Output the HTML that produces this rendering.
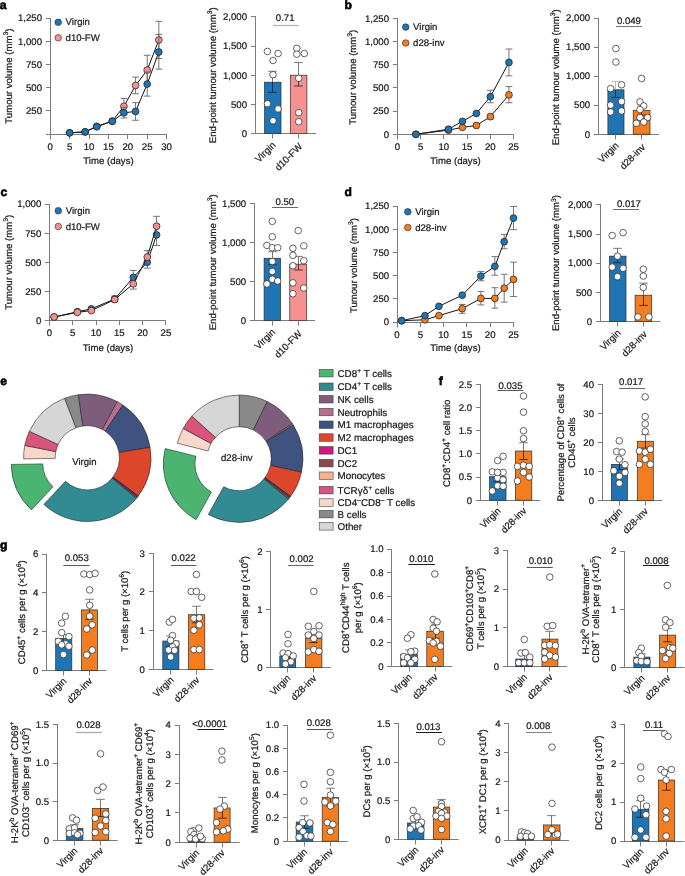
<!DOCTYPE html>
<html><head><meta charset="utf-8"><title>Figure</title>
<style>
html,body{margin:0;padding:0;background:#fff;}
body{width:685px;height:876px;overflow:hidden;}
svg{display:block;font-family:"Liberation Sans",sans-serif;-webkit-font-smoothing:antialiased;}
text{text-rendering:geometricPrecision;}
svg{will-change:transform;}
text{stroke:#1a1a1a;stroke-width:0.22px;}
</style></head>
<body>
<svg width="685" height="876" viewBox="0 0 685 876">
<rect width="685" height="876" fill="#fff"/>
<line x1="50.5" y1="18.05" x2="50.5" y2="139.55" stroke="#7c7c7c" stroke-width="1"/>
<line x1="45.9" y1="134.5" x2="166.7" y2="134.5" stroke="#7c7c7c" stroke-width="1"/>
<line x1="45.9" y1="110.5" x2="50.5" y2="110.5" stroke="#7c7c7c" stroke-width="1"/>
<text x="42" y="114.28" font-size="9.6" text-anchor="end" fill="#1a1a1a">250</text>
<line x1="45.9" y1="87.5" x2="50.5" y2="87.5" stroke="#7c7c7c" stroke-width="1"/>
<text x="42" y="91.06" font-size="9.6" text-anchor="end" fill="#1a1a1a">500</text>
<line x1="45.9" y1="64.5" x2="50.5" y2="64.5" stroke="#7c7c7c" stroke-width="1"/>
<text x="42" y="67.84" font-size="9.6" text-anchor="end" fill="#1a1a1a">750</text>
<line x1="45.9" y1="41.5" x2="50.5" y2="41.5" stroke="#7c7c7c" stroke-width="1"/>
<text x="42" y="44.62" font-size="9.6" text-anchor="end" fill="#1a1a1a">1,000</text>
<line x1="45.9" y1="18.5" x2="50.5" y2="18.5" stroke="#7c7c7c" stroke-width="1"/>
<text x="42" y="21.4" font-size="9.6" text-anchor="end" fill="#1a1a1a">1,250</text>
<line x1="50.5" y1="134.5" x2="50.5" y2="139.1" stroke="#7c7c7c" stroke-width="1"/>
<text x="50.2" y="149.8" font-size="9.6" text-anchor="middle" fill="#1a1a1a">0</text>
<line x1="69.5" y1="134.5" x2="69.5" y2="139.1" stroke="#7c7c7c" stroke-width="1"/>
<text x="69.6" y="149.8" font-size="9.6" text-anchor="middle" fill="#1a1a1a">5</text>
<line x1="89.5" y1="134.5" x2="89.5" y2="139.1" stroke="#7c7c7c" stroke-width="1"/>
<text x="89" y="149.8" font-size="9.6" text-anchor="middle" fill="#1a1a1a">10</text>
<line x1="108.5" y1="134.5" x2="108.5" y2="139.1" stroke="#7c7c7c" stroke-width="1"/>
<text x="108.4" y="149.8" font-size="9.6" text-anchor="middle" fill="#1a1a1a">15</text>
<line x1="127.5" y1="134.5" x2="127.5" y2="139.1" stroke="#7c7c7c" stroke-width="1"/>
<text x="127.8" y="149.8" font-size="9.6" text-anchor="middle" fill="#1a1a1a">20</text>
<line x1="147.5" y1="134.5" x2="147.5" y2="139.1" stroke="#7c7c7c" stroke-width="1"/>
<text x="147.2" y="149.8" font-size="9.6" text-anchor="middle" fill="#1a1a1a">25</text>
<line x1="166.5" y1="134.5" x2="166.5" y2="139.1" stroke="#7c7c7c" stroke-width="1"/>
<text x="166.6" y="149.8" font-size="9.6" text-anchor="middle" fill="#1a1a1a">30</text>
<text x="108.5" y="164" font-size="9.6" text-anchor="middle" fill="#1a1a1a">Time (days)</text>
<line x1="123.92" y1="114.23" x2="123.92" y2="98.44" stroke="#666666" stroke-width="0.9"/>
<line x1="120.52" y1="114.23" x2="127.32" y2="114.23" stroke="#666666" stroke-width="0.9"/>
<line x1="120.52" y1="98.44" x2="127.32" y2="98.44" stroke="#666666" stroke-width="0.9"/>
<line x1="135.56" y1="93.8" x2="135.56" y2="77.08" stroke="#666666" stroke-width="0.9"/>
<line x1="132.16" y1="93.8" x2="138.96" y2="93.8" stroke="#666666" stroke-width="0.9"/>
<line x1="132.16" y1="77.08" x2="138.96" y2="77.08" stroke="#666666" stroke-width="0.9"/>
<line x1="147.2" y1="84.97" x2="147.2" y2="55.25" stroke="#666666" stroke-width="0.9"/>
<line x1="143.8" y1="84.97" x2="150.6" y2="84.97" stroke="#666666" stroke-width="0.9"/>
<line x1="143.8" y1="55.25" x2="150.6" y2="55.25" stroke="#666666" stroke-width="0.9"/>
<line x1="158.84" y1="58.5" x2="158.84" y2="21.35" stroke="#666666" stroke-width="0.9"/>
<line x1="155.44" y1="58.5" x2="162.24" y2="58.5" stroke="#666666" stroke-width="0.9"/>
<line x1="155.44" y1="21.35" x2="162.24" y2="21.35" stroke="#666666" stroke-width="0.9"/>
<polyline points="69.6,132.81 85.12,131.88 96.76,126.31 112.28,121.2 123.92,106.34 135.56,85.44 147.2,70.11 158.84,39.93" fill="none" stroke="#151515" stroke-width="1"/>
<circle cx="69.6" cy="132.81" r="3.4" fill="#f5928f" stroke="#1a1a1a" stroke-width="0.7"/>
<circle cx="85.12" cy="131.88" r="3.4" fill="#f5928f" stroke="#1a1a1a" stroke-width="0.7"/>
<circle cx="96.76" cy="126.31" r="3.4" fill="#f5928f" stroke="#1a1a1a" stroke-width="0.7"/>
<circle cx="112.28" cy="121.2" r="3.4" fill="#f5928f" stroke="#1a1a1a" stroke-width="0.7"/>
<circle cx="123.92" cy="106.34" r="3.4" fill="#f5928f" stroke="#1a1a1a" stroke-width="0.7"/>
<circle cx="135.56" cy="85.44" r="3.4" fill="#f5928f" stroke="#1a1a1a" stroke-width="0.7"/>
<circle cx="147.2" cy="70.11" r="3.4" fill="#f5928f" stroke="#1a1a1a" stroke-width="0.7"/>
<circle cx="158.84" cy="39.93" r="3.4" fill="#f5928f" stroke="#1a1a1a" stroke-width="0.7"/>
<line x1="123.92" y1="117.95" x2="123.92" y2="107.26" stroke="#666666" stroke-width="0.9"/>
<line x1="120.52" y1="117.95" x2="127.32" y2="117.95" stroke="#666666" stroke-width="0.9"/>
<line x1="120.52" y1="107.26" x2="127.32" y2="107.26" stroke="#666666" stroke-width="0.9"/>
<line x1="135.56" y1="120.27" x2="135.56" y2="102.62" stroke="#666666" stroke-width="0.9"/>
<line x1="132.16" y1="120.27" x2="138.96" y2="120.27" stroke="#666666" stroke-width="0.9"/>
<line x1="132.16" y1="102.62" x2="138.96" y2="102.62" stroke="#666666" stroke-width="0.9"/>
<line x1="147.2" y1="96.12" x2="147.2" y2="71.97" stroke="#666666" stroke-width="0.9"/>
<line x1="143.8" y1="96.12" x2="150.6" y2="96.12" stroke="#666666" stroke-width="0.9"/>
<line x1="143.8" y1="71.97" x2="150.6" y2="71.97" stroke="#666666" stroke-width="0.9"/>
<line x1="158.84" y1="69.18" x2="158.84" y2="34.35" stroke="#666666" stroke-width="0.9"/>
<line x1="155.44" y1="69.18" x2="162.24" y2="69.18" stroke="#666666" stroke-width="0.9"/>
<line x1="155.44" y1="34.35" x2="162.24" y2="34.35" stroke="#666666" stroke-width="0.9"/>
<polyline points="69.6,132.81 85.12,131.88 96.76,126.77 112.28,121.2 123.92,112.84 135.56,111.44 147.2,84.04 158.84,52" fill="none" stroke="#151515" stroke-width="1"/>
<circle cx="69.6" cy="132.81" r="3.4" fill="#1f75b3" stroke="#1a1a1a" stroke-width="0.7"/>
<circle cx="85.12" cy="131.88" r="3.4" fill="#1f75b3" stroke="#1a1a1a" stroke-width="0.7"/>
<circle cx="96.76" cy="126.77" r="3.4" fill="#1f75b3" stroke="#1a1a1a" stroke-width="0.7"/>
<circle cx="112.28" cy="121.2" r="3.4" fill="#1f75b3" stroke="#1a1a1a" stroke-width="0.7"/>
<circle cx="123.92" cy="112.84" r="3.4" fill="#1f75b3" stroke="#1a1a1a" stroke-width="0.7"/>
<circle cx="135.56" cy="111.44" r="3.4" fill="#1f75b3" stroke="#1a1a1a" stroke-width="0.7"/>
<circle cx="147.2" cy="84.04" r="3.4" fill="#1f75b3" stroke="#1a1a1a" stroke-width="0.7"/>
<circle cx="158.84" cy="52" r="3.4" fill="#1f75b3" stroke="#1a1a1a" stroke-width="0.7"/>
<circle cx="58.2" cy="22.3" r="3.3" fill="#1f75b3" stroke="#2a2a2a" stroke-width="0.6"/>
<text x="65.6" y="25.4" font-size="9.6" text-anchor="start" fill="#1a1a1a">Virgin</text>
<circle cx="58.2" cy="37.8" r="3.3" fill="#f5928f" stroke="#2a2a2a" stroke-width="0.6"/>
<text x="65.6" y="40.9" font-size="9.6" text-anchor="start" fill="#1a1a1a">d10-FW</text>
<text x="11.8" y="76.15" font-size="9.6" text-anchor="middle" transform="rotate(-90 11.8 76.15)" fill="#1a1a1a">Tumour volume (mm<tspan dy="-3.9" font-size="6.72">3</tspan><tspan dy="3.9">&#8203;</tspan>)</text>
<line x1="255.5" y1="16.05" x2="255.5" y2="133.95" stroke="#7c7c7c" stroke-width="1"/>
<line x1="250.9" y1="133.5" x2="316" y2="133.5" stroke="#7c7c7c" stroke-width="1"/>
<text x="247" y="136.9" font-size="9.6" text-anchor="end" fill="#1a1a1a">0</text>
<line x1="250.9" y1="104.5" x2="255.5" y2="104.5" stroke="#7c7c7c" stroke-width="1"/>
<text x="247" y="107.7" font-size="9.6" text-anchor="end" fill="#1a1a1a">500</text>
<line x1="250.9" y1="75.5" x2="255.5" y2="75.5" stroke="#7c7c7c" stroke-width="1"/>
<text x="247" y="78.5" font-size="9.6" text-anchor="end" fill="#1a1a1a">1,000</text>
<line x1="250.9" y1="46.5" x2="255.5" y2="46.5" stroke="#7c7c7c" stroke-width="1"/>
<text x="247" y="49.3" font-size="9.6" text-anchor="end" fill="#1a1a1a">1,500</text>
<line x1="250.9" y1="16.5" x2="255.5" y2="16.5" stroke="#7c7c7c" stroke-width="1"/>
<text x="247" y="20.1" font-size="9.6" text-anchor="end" fill="#1a1a1a">2,000</text>
<rect x="264.6" y="82.21" width="16.4" height="51.39" fill="#1f75b3" stroke="#2a2a2a" stroke-width="0.7"/>
<line x1="272.5" y1="133.5" x2="272.5" y2="138.5" stroke="#7c7c7c" stroke-width="1"/>
<rect x="290.3" y="75.2" width="16.6" height="58.4" fill="#f5928f" stroke="#2a2a2a" stroke-width="0.7"/>
<line x1="298.5" y1="133.5" x2="298.5" y2="138.5" stroke="#7c7c7c" stroke-width="1"/>
<line x1="272.5" y1="82.21" x2="272.5" y2="71.29" stroke="#6a6a6a" stroke-width="0.9"/>
<line x1="268.2" y1="71.29" x2="276.8" y2="71.29" stroke="#6a6a6a" stroke-width="0.9"/>
<line x1="272.5" y1="92.31" x2="272.5" y2="82.21" stroke="#1e1e1e" stroke-width="0.8"/>
<line x1="268.2" y1="92.31" x2="276.8" y2="92.31" stroke="#1e1e1e" stroke-width="0.8"/>
<line x1="298.5" y1="75.2" x2="298.5" y2="62.59" stroke="#6a6a6a" stroke-width="0.9"/>
<line x1="294.2" y1="62.59" x2="302.8" y2="62.59" stroke="#6a6a6a" stroke-width="0.9"/>
<line x1="298.5" y1="86" x2="298.5" y2="75.2" stroke="#1e1e1e" stroke-width="0.8"/>
<line x1="294.2" y1="86" x2="302.8" y2="86" stroke="#1e1e1e" stroke-width="0.8"/>
<circle cx="267.4" cy="51.43" r="3.3" fill="#ffffff" stroke="#222222" stroke-width="0.7"/>
<circle cx="278.1" cy="53.48" r="3.3" fill="#ffffff" stroke="#222222" stroke-width="0.7"/>
<circle cx="273" cy="60.48" r="3.3" fill="#ffffff" stroke="#222222" stroke-width="0.7"/>
<circle cx="273" cy="74.79" r="3.3" fill="#ffffff" stroke="#222222" stroke-width="0.7"/>
<circle cx="267.4" cy="103.7" r="3.3" fill="#ffffff" stroke="#222222" stroke-width="0.7"/>
<circle cx="278.1" cy="108.9" r="3.3" fill="#ffffff" stroke="#222222" stroke-width="0.7"/>
<circle cx="273" cy="120.81" r="3.3" fill="#ffffff" stroke="#222222" stroke-width="0.7"/>
<circle cx="296.8" cy="48.34" r="3.3" fill="#ffffff" stroke="#222222" stroke-width="0.7"/>
<circle cx="296.8" cy="54.18" r="3.3" fill="#ffffff" stroke="#222222" stroke-width="0.7"/>
<circle cx="304.3" cy="53.48" r="3.3" fill="#ffffff" stroke="#222222" stroke-width="0.7"/>
<circle cx="298.7" cy="78.3" r="3.3" fill="#ffffff" stroke="#222222" stroke-width="0.7"/>
<circle cx="298.7" cy="112.58" r="3.3" fill="#ffffff" stroke="#222222" stroke-width="0.7"/>
<circle cx="298.7" cy="121.69" r="3.3" fill="#ffffff" stroke="#222222" stroke-width="0.7"/>
<line x1="273" y1="25.5" x2="298.7" y2="25.5" stroke="#b4b4b4" stroke-width="1.3"/>
<text x="285.2" y="20.9" font-size="9.6" text-anchor="middle" fill="#1a1a1a">0.71</text>
<text x="216.2" y="75.2" font-size="9.6" text-anchor="middle" transform="rotate(-90 216.2 75.2)" fill="#1a1a1a">End-point tumour volume (mm<tspan dy="-3.9" font-size="6.72">3</tspan><tspan dy="3.9">&#8203;</tspan>)</text>
<text x="276.2" y="145.7" font-size="9.6" text-anchor="end" transform="rotate(-45 276.2 145.7)" fill="#1a1a1a">Virgin</text>
<text x="302.9" y="147.2" font-size="9.6" text-anchor="end" transform="rotate(-45 302.9 147.2)" fill="#1a1a1a">d10-FW</text>
<line x1="397.5" y1="18.05" x2="397.5" y2="139.55" stroke="#7c7c7c" stroke-width="1"/>
<line x1="392.9" y1="134.5" x2="513.6" y2="134.5" stroke="#7c7c7c" stroke-width="1"/>
<text x="389" y="137.6" font-size="9.6" text-anchor="end" fill="#1a1a1a">0</text>
<line x1="392.9" y1="111.5" x2="397.5" y2="111.5" stroke="#7c7c7c" stroke-width="1"/>
<text x="389" y="114.42" font-size="9.6" text-anchor="end" fill="#1a1a1a">250</text>
<line x1="392.9" y1="87.5" x2="397.5" y2="87.5" stroke="#7c7c7c" stroke-width="1"/>
<text x="389" y="91.24" font-size="9.6" text-anchor="end" fill="#1a1a1a">500</text>
<line x1="392.9" y1="64.5" x2="397.5" y2="64.5" stroke="#7c7c7c" stroke-width="1"/>
<text x="389" y="68.06" font-size="9.6" text-anchor="end" fill="#1a1a1a">750</text>
<line x1="392.9" y1="41.5" x2="397.5" y2="41.5" stroke="#7c7c7c" stroke-width="1"/>
<text x="389" y="44.88" font-size="9.6" text-anchor="end" fill="#1a1a1a">1,000</text>
<line x1="392.9" y1="18.5" x2="397.5" y2="18.5" stroke="#7c7c7c" stroke-width="1"/>
<text x="389" y="21.7" font-size="9.6" text-anchor="end" fill="#1a1a1a">1,250</text>
<line x1="397.5" y1="134.5" x2="397.5" y2="139.1" stroke="#7c7c7c" stroke-width="1"/>
<text x="397.3" y="149.9" font-size="9.6" text-anchor="middle" fill="#1a1a1a">0</text>
<line x1="420.5" y1="134.5" x2="420.5" y2="139.1" stroke="#7c7c7c" stroke-width="1"/>
<text x="420.56" y="149.9" font-size="9.6" text-anchor="middle" fill="#1a1a1a">5</text>
<line x1="443.5" y1="134.5" x2="443.5" y2="139.1" stroke="#7c7c7c" stroke-width="1"/>
<text x="443.82" y="149.9" font-size="9.6" text-anchor="middle" fill="#1a1a1a">10</text>
<line x1="467.5" y1="134.5" x2="467.5" y2="139.1" stroke="#7c7c7c" stroke-width="1"/>
<text x="467.08" y="149.9" font-size="9.6" text-anchor="middle" fill="#1a1a1a">15</text>
<line x1="490.5" y1="134.5" x2="490.5" y2="139.1" stroke="#7c7c7c" stroke-width="1"/>
<text x="490.34" y="149.9" font-size="9.6" text-anchor="middle" fill="#1a1a1a">20</text>
<line x1="513.5" y1="134.5" x2="513.5" y2="139.1" stroke="#7c7c7c" stroke-width="1"/>
<text x="513.6" y="149.9" font-size="9.6" text-anchor="middle" fill="#1a1a1a">25</text>
<text x="455.5" y="164" font-size="9.6" text-anchor="middle" fill="#1a1a1a">Time (days)</text>
<line x1="490.34" y1="119" x2="490.34" y2="114.37" stroke="#666666" stroke-width="0.9"/>
<line x1="486.94" y1="119" x2="493.74" y2="119" stroke="#666666" stroke-width="0.9"/>
<line x1="486.94" y1="114.37" x2="493.74" y2="114.37" stroke="#666666" stroke-width="0.9"/>
<line x1="508.95" y1="102.78" x2="508.95" y2="86.55" stroke="#666666" stroke-width="0.9"/>
<line x1="505.55" y1="102.78" x2="512.35" y2="102.78" stroke="#666666" stroke-width="0.9"/>
<line x1="505.55" y1="86.55" x2="512.35" y2="86.55" stroke="#666666" stroke-width="0.9"/>
<polyline points="415.91,134.3 448.47,130.13 462.43,127.35 476.38,125.49 490.34,116.68 508.95,94.89" fill="none" stroke="#151515" stroke-width="1"/>
<circle cx="415.91" cy="134.3" r="3.4" fill="#f47d20" stroke="#1a1a1a" stroke-width="0.7"/>
<circle cx="448.47" cy="130.13" r="3.4" fill="#f47d20" stroke="#1a1a1a" stroke-width="0.7"/>
<circle cx="462.43" cy="127.35" r="3.4" fill="#f47d20" stroke="#1a1a1a" stroke-width="0.7"/>
<circle cx="476.38" cy="125.49" r="3.4" fill="#f47d20" stroke="#1a1a1a" stroke-width="0.7"/>
<circle cx="490.34" cy="116.68" r="3.4" fill="#f47d20" stroke="#1a1a1a" stroke-width="0.7"/>
<circle cx="508.95" cy="94.89" r="3.4" fill="#f47d20" stroke="#1a1a1a" stroke-width="0.7"/>
<line x1="490.34" y1="102.78" x2="490.34" y2="90.26" stroke="#666666" stroke-width="0.9"/>
<line x1="486.94" y1="102.78" x2="493.74" y2="102.78" stroke="#666666" stroke-width="0.9"/>
<line x1="486.94" y1="90.26" x2="493.74" y2="90.26" stroke="#666666" stroke-width="0.9"/>
<line x1="508.95" y1="75.89" x2="508.95" y2="49" stroke="#666666" stroke-width="0.9"/>
<line x1="505.55" y1="75.89" x2="512.35" y2="75.89" stroke="#666666" stroke-width="0.9"/>
<line x1="505.55" y1="49" x2="512.35" y2="49" stroke="#666666" stroke-width="0.9"/>
<polyline points="415.91,134.3 448.47,129.2 462.43,121.32 476.38,113.44 490.34,96.75 508.95,62.44" fill="none" stroke="#151515" stroke-width="1"/>
<circle cx="415.91" cy="134.3" r="3.4" fill="#1f75b3" stroke="#1a1a1a" stroke-width="0.7"/>
<circle cx="448.47" cy="129.2" r="3.4" fill="#1f75b3" stroke="#1a1a1a" stroke-width="0.7"/>
<circle cx="462.43" cy="121.32" r="3.4" fill="#1f75b3" stroke="#1a1a1a" stroke-width="0.7"/>
<circle cx="476.38" cy="113.44" r="3.4" fill="#1f75b3" stroke="#1a1a1a" stroke-width="0.7"/>
<circle cx="490.34" cy="96.75" r="3.4" fill="#1f75b3" stroke="#1a1a1a" stroke-width="0.7"/>
<circle cx="508.95" cy="62.44" r="3.4" fill="#1f75b3" stroke="#1a1a1a" stroke-width="0.7"/>
<circle cx="405.7" cy="27.1" r="3.3" fill="#1f75b3" stroke="#2a2a2a" stroke-width="0.6"/>
<text x="413.1" y="30.2" font-size="9.6" text-anchor="start" fill="#1a1a1a">Virgin</text>
<circle cx="405.7" cy="43" r="3.3" fill="#f47d20" stroke="#2a2a2a" stroke-width="0.6"/>
<text x="413.1" y="46.1" font-size="9.6" text-anchor="start" fill="#1a1a1a">d28-inv</text>
<text x="356.3" y="77.25" font-size="9.6" text-anchor="middle" transform="rotate(-90 356.3 77.25)" fill="#1a1a1a">Tumour volume (mm<tspan dy="-3.9" font-size="6.72">3</tspan><tspan dy="3.9">&#8203;</tspan>)</text>
<line x1="598.5" y1="18.05" x2="598.5" y2="134.95" stroke="#7c7c7c" stroke-width="1"/>
<line x1="593.9" y1="134.5" x2="659" y2="134.5" stroke="#7c7c7c" stroke-width="1"/>
<text x="590.1" y="137.5" font-size="9.6" text-anchor="end" fill="#1a1a1a">0</text>
<line x1="593.9" y1="105.5" x2="598.5" y2="105.5" stroke="#7c7c7c" stroke-width="1"/>
<text x="590.1" y="108.47" font-size="9.6" text-anchor="end" fill="#1a1a1a">500</text>
<line x1="593.9" y1="76.5" x2="598.5" y2="76.5" stroke="#7c7c7c" stroke-width="1"/>
<text x="590.1" y="79.45" font-size="9.6" text-anchor="end" fill="#1a1a1a">1,000</text>
<line x1="593.9" y1="47.5" x2="598.5" y2="47.5" stroke="#7c7c7c" stroke-width="1"/>
<text x="590.1" y="50.42" font-size="9.6" text-anchor="end" fill="#1a1a1a">1,500</text>
<line x1="593.9" y1="18.5" x2="598.5" y2="18.5" stroke="#7c7c7c" stroke-width="1"/>
<text x="590.1" y="21.4" font-size="9.6" text-anchor="end" fill="#1a1a1a">2,000</text>
<rect x="607.9" y="89.79" width="16.1" height="44.41" fill="#1f75b3" stroke="#2a2a2a" stroke-width="0.7"/>
<line x1="615.5" y1="134.5" x2="615.5" y2="139.5" stroke="#7c7c7c" stroke-width="1"/>
<rect x="633.2" y="110.28" width="16.8" height="23.92" fill="#f47d20" stroke="#2a2a2a" stroke-width="0.7"/>
<line x1="641.5" y1="134.5" x2="641.5" y2="139.5" stroke="#7c7c7c" stroke-width="1"/>
<line x1="615.5" y1="89.79" x2="615.5" y2="81.37" stroke="#b8b8b8" stroke-width="0.9"/>
<line x1="611.2" y1="81.37" x2="619.8" y2="81.37" stroke="#b8b8b8" stroke-width="0.9"/>
<line x1="615.5" y1="97.45" x2="615.5" y2="89.79" stroke="#1e1e1e" stroke-width="0.8"/>
<line x1="611.2" y1="97.45" x2="619.8" y2="97.45" stroke="#1e1e1e" stroke-width="0.8"/>
<line x1="641.5" y1="110.28" x2="641.5" y2="105.47" stroke="#b8b8b8" stroke-width="0.9"/>
<line x1="637.2" y1="105.47" x2="645.8" y2="105.47" stroke="#b8b8b8" stroke-width="0.9"/>
<line x1="641.5" y1="115.04" x2="641.5" y2="110.28" stroke="#1e1e1e" stroke-width="0.8"/>
<line x1="637.2" y1="115.04" x2="645.8" y2="115.04" stroke="#1e1e1e" stroke-width="0.8"/>
<circle cx="615.9" cy="48.58" r="3.3" fill="#ffffff" stroke="#222222" stroke-width="0.7"/>
<circle cx="615.9" cy="62.04" r="3.3" fill="#ffffff" stroke="#222222" stroke-width="0.7"/>
<circle cx="621.6" cy="84.74" r="3.3" fill="#ffffff" stroke="#222222" stroke-width="0.7"/>
<circle cx="610.6" cy="88.57" r="3.3" fill="#ffffff" stroke="#222222" stroke-width="0.7"/>
<circle cx="610.6" cy="105.17" r="3.3" fill="#ffffff" stroke="#222222" stroke-width="0.7"/>
<circle cx="621.6" cy="101.58" r="3.3" fill="#ffffff" stroke="#222222" stroke-width="0.7"/>
<circle cx="610.6" cy="111.97" r="3.3" fill="#ffffff" stroke="#222222" stroke-width="0.7"/>
<circle cx="621.6" cy="110.98" r="3.3" fill="#ffffff" stroke="#222222" stroke-width="0.7"/>
<circle cx="641.6" cy="78.47" r="3.3" fill="#ffffff" stroke="#222222" stroke-width="0.7"/>
<circle cx="640" cy="101.87" r="3.3" fill="#ffffff" stroke="#222222" stroke-width="0.7"/>
<circle cx="643.8" cy="105.99" r="3.3" fill="#ffffff" stroke="#222222" stroke-width="0.7"/>
<circle cx="640" cy="109.59" r="3.3" fill="#ffffff" stroke="#222222" stroke-width="0.7"/>
<circle cx="640" cy="117.48" r="3.3" fill="#ffffff" stroke="#222222" stroke-width="0.7"/>
<circle cx="647.6" cy="117.48" r="3.3" fill="#ffffff" stroke="#222222" stroke-width="0.7"/>
<circle cx="636.3" cy="123.29" r="3.3" fill="#ffffff" stroke="#222222" stroke-width="0.7"/>
<circle cx="643.8" cy="122.07" r="3.3" fill="#ffffff" stroke="#222222" stroke-width="0.7"/>
<line x1="615.9" y1="26.5" x2="641.9" y2="26.5" stroke="#7a7a7a" stroke-width="1.1"/>
<text x="628.9" y="23.8" font-size="9.6" text-anchor="middle" fill="#1a1a1a">0.049</text>
<text x="559.1" y="77.35" font-size="9.6" text-anchor="middle" transform="rotate(-90 559.1 77.35)" fill="#1a1a1a">End-point tumour volume (mm<tspan dy="-3.9" font-size="6.72">3</tspan><tspan dy="3.9">&#8203;</tspan>)</text>
<text x="619.35" y="146.3" font-size="9.6" text-anchor="end" transform="rotate(-45 619.35 146.3)" fill="#1a1a1a">Virgin</text>
<text x="645.9" y="147.8" font-size="9.6" text-anchor="end" transform="rotate(-45 645.9 147.8)" fill="#1a1a1a">d28-inv</text>
<line x1="49.5" y1="204.05" x2="49.5" y2="325.55" stroke="#7c7c7c" stroke-width="1"/>
<line x1="44.9" y1="320.5" x2="165.9" y2="320.5" stroke="#7c7c7c" stroke-width="1"/>
<text x="41.3" y="323.8" font-size="9.6" text-anchor="end" fill="#1a1a1a">0</text>
<line x1="44.9" y1="291.5" x2="49.5" y2="291.5" stroke="#7c7c7c" stroke-width="1"/>
<text x="41.3" y="294.7" font-size="9.6" text-anchor="end" fill="#1a1a1a">250</text>
<line x1="44.9" y1="262.5" x2="49.5" y2="262.5" stroke="#7c7c7c" stroke-width="1"/>
<text x="41.3" y="265.6" font-size="9.6" text-anchor="end" fill="#1a1a1a">500</text>
<line x1="44.9" y1="233.5" x2="49.5" y2="233.5" stroke="#7c7c7c" stroke-width="1"/>
<text x="41.3" y="236.5" font-size="9.6" text-anchor="end" fill="#1a1a1a">750</text>
<line x1="44.9" y1="204.5" x2="49.5" y2="204.5" stroke="#7c7c7c" stroke-width="1"/>
<text x="41.3" y="207.4" font-size="9.6" text-anchor="end" fill="#1a1a1a">1,000</text>
<line x1="49.5" y1="320.5" x2="49.5" y2="325.1" stroke="#7c7c7c" stroke-width="1"/>
<text x="49.5" y="336.1" font-size="9.6" text-anchor="middle" fill="#1a1a1a">0</text>
<line x1="72.5" y1="320.5" x2="72.5" y2="325.1" stroke="#7c7c7c" stroke-width="1"/>
<text x="72.78" y="336.1" font-size="9.6" text-anchor="middle" fill="#1a1a1a">5</text>
<line x1="96.5" y1="320.5" x2="96.5" y2="325.1" stroke="#7c7c7c" stroke-width="1"/>
<text x="96.06" y="336.1" font-size="9.6" text-anchor="middle" fill="#1a1a1a">10</text>
<line x1="119.5" y1="320.5" x2="119.5" y2="325.1" stroke="#7c7c7c" stroke-width="1"/>
<text x="119.34" y="336.1" font-size="9.6" text-anchor="middle" fill="#1a1a1a">15</text>
<line x1="142.5" y1="320.5" x2="142.5" y2="325.1" stroke="#7c7c7c" stroke-width="1"/>
<text x="142.62" y="336.1" font-size="9.6" text-anchor="middle" fill="#1a1a1a">20</text>
<line x1="165.5" y1="320.5" x2="165.5" y2="325.1" stroke="#7c7c7c" stroke-width="1"/>
<text x="165.9" y="336.1" font-size="9.6" text-anchor="middle" fill="#1a1a1a">25</text>
<text x="108" y="351.2" font-size="9.6" text-anchor="middle" fill="#1a1a1a">Time (days)</text>
<line x1="114.68" y1="301.29" x2="114.68" y2="296.06" stroke="#666666" stroke-width="0.9"/>
<line x1="111.28" y1="301.29" x2="118.08" y2="301.29" stroke="#666666" stroke-width="0.9"/>
<line x1="111.28" y1="296.06" x2="118.08" y2="296.06" stroke="#666666" stroke-width="0.9"/>
<line x1="133.31" y1="284.42" x2="133.31" y2="270.45" stroke="#666666" stroke-width="0.9"/>
<line x1="129.91" y1="284.42" x2="136.71" y2="284.42" stroke="#666666" stroke-width="0.9"/>
<line x1="129.91" y1="270.45" x2="136.71" y2="270.45" stroke="#666666" stroke-width="0.9"/>
<line x1="147.28" y1="268.12" x2="147.28" y2="256.48" stroke="#666666" stroke-width="0.9"/>
<line x1="143.88" y1="268.12" x2="150.68" y2="268.12" stroke="#666666" stroke-width="0.9"/>
<line x1="143.88" y1="256.48" x2="150.68" y2="256.48" stroke="#666666" stroke-width="0.9"/>
<line x1="156.59" y1="245.42" x2="156.59" y2="224.47" stroke="#666666" stroke-width="0.9"/>
<line x1="153.19" y1="245.42" x2="159.99" y2="245.42" stroke="#666666" stroke-width="0.9"/>
<line x1="153.19" y1="224.47" x2="159.99" y2="224.47" stroke="#666666" stroke-width="0.9"/>
<polyline points="54.16,317.01 77.44,311.77 91.4,308.86 114.68,298.97 133.31,277.43 147.28,262.3 156.59,234.95" fill="none" stroke="#151515" stroke-width="1"/>
<circle cx="54.16" cy="317.01" r="3.4" fill="#1f75b3" stroke="#1a1a1a" stroke-width="0.7"/>
<circle cx="77.44" cy="311.77" r="3.4" fill="#1f75b3" stroke="#1a1a1a" stroke-width="0.7"/>
<circle cx="91.4" cy="308.86" r="3.4" fill="#1f75b3" stroke="#1a1a1a" stroke-width="0.7"/>
<circle cx="114.68" cy="298.97" r="3.4" fill="#1f75b3" stroke="#1a1a1a" stroke-width="0.7"/>
<circle cx="133.31" cy="277.43" r="3.4" fill="#1f75b3" stroke="#1a1a1a" stroke-width="0.7"/>
<circle cx="147.28" cy="262.3" r="3.4" fill="#1f75b3" stroke="#1a1a1a" stroke-width="0.7"/>
<circle cx="156.59" cy="234.95" r="3.4" fill="#1f75b3" stroke="#1a1a1a" stroke-width="0.7"/>
<line x1="114.68" y1="301.88" x2="114.68" y2="297.22" stroke="#666666" stroke-width="0.9"/>
<line x1="111.28" y1="301.88" x2="118.08" y2="301.88" stroke="#666666" stroke-width="0.9"/>
<line x1="111.28" y1="297.22" x2="118.08" y2="297.22" stroke="#666666" stroke-width="0.9"/>
<line x1="133.31" y1="289.07" x2="133.31" y2="278.6" stroke="#666666" stroke-width="0.9"/>
<line x1="129.91" y1="289.07" x2="136.71" y2="289.07" stroke="#666666" stroke-width="0.9"/>
<line x1="129.91" y1="278.6" x2="136.71" y2="278.6" stroke="#666666" stroke-width="0.9"/>
<line x1="147.28" y1="262.88" x2="147.28" y2="250.66" stroke="#666666" stroke-width="0.9"/>
<line x1="143.88" y1="262.88" x2="150.68" y2="262.88" stroke="#666666" stroke-width="0.9"/>
<line x1="143.88" y1="250.66" x2="150.68" y2="250.66" stroke="#666666" stroke-width="0.9"/>
<line x1="156.59" y1="236.11" x2="156.59" y2="216.32" stroke="#666666" stroke-width="0.9"/>
<line x1="153.19" y1="236.11" x2="159.99" y2="236.11" stroke="#666666" stroke-width="0.9"/>
<line x1="153.19" y1="216.32" x2="159.99" y2="216.32" stroke="#666666" stroke-width="0.9"/>
<polyline points="54.16,317.01 77.44,312.35 91.4,310.61 114.68,299.55 133.31,283.83 147.28,257.06 156.59,226.22" fill="none" stroke="#151515" stroke-width="1"/>
<circle cx="54.16" cy="317.01" r="3.4" fill="#f5928f" stroke="#1a1a1a" stroke-width="0.7"/>
<circle cx="77.44" cy="312.35" r="3.4" fill="#f5928f" stroke="#1a1a1a" stroke-width="0.7"/>
<circle cx="91.4" cy="310.61" r="3.4" fill="#f5928f" stroke="#1a1a1a" stroke-width="0.7"/>
<circle cx="114.68" cy="299.55" r="3.4" fill="#f5928f" stroke="#1a1a1a" stroke-width="0.7"/>
<circle cx="133.31" cy="283.83" r="3.4" fill="#f5928f" stroke="#1a1a1a" stroke-width="0.7"/>
<circle cx="147.28" cy="257.06" r="3.4" fill="#f5928f" stroke="#1a1a1a" stroke-width="0.7"/>
<circle cx="156.59" cy="226.22" r="3.4" fill="#f5928f" stroke="#1a1a1a" stroke-width="0.7"/>
<circle cx="58.3" cy="210.7" r="3.3" fill="#1f75b3" stroke="#2a2a2a" stroke-width="0.6"/>
<text x="65.7" y="213.8" font-size="9.6" text-anchor="start" fill="#1a1a1a">Virgin</text>
<circle cx="58.3" cy="226.5" r="3.3" fill="#f5928f" stroke="#2a2a2a" stroke-width="0.6"/>
<text x="65.7" y="229.6" font-size="9.6" text-anchor="start" fill="#1a1a1a">d10-FW</text>
<text x="11.8" y="262.3" font-size="9.6" text-anchor="middle" transform="rotate(-90 11.8 262.3)" fill="#1a1a1a">Tumour volume (mm<tspan dy="-3.9" font-size="6.72">3</tspan><tspan dy="3.9">&#8203;</tspan>)</text>
<line x1="254.5" y1="203.05" x2="254.5" y2="320.95" stroke="#7c7c7c" stroke-width="1"/>
<line x1="249.9" y1="320.5" x2="315" y2="320.5" stroke="#7c7c7c" stroke-width="1"/>
<text x="246.1" y="324" font-size="9.6" text-anchor="end" fill="#1a1a1a">0</text>
<line x1="249.9" y1="281.5" x2="254.5" y2="281.5" stroke="#7c7c7c" stroke-width="1"/>
<text x="246.1" y="285.07" font-size="9.6" text-anchor="end" fill="#1a1a1a">500</text>
<line x1="249.9" y1="242.5" x2="254.5" y2="242.5" stroke="#7c7c7c" stroke-width="1"/>
<text x="246.1" y="246.13" font-size="9.6" text-anchor="end" fill="#1a1a1a">1,000</text>
<line x1="249.9" y1="203.5" x2="254.5" y2="203.5" stroke="#7c7c7c" stroke-width="1"/>
<text x="246.1" y="207.2" font-size="9.6" text-anchor="end" fill="#1a1a1a">1,500</text>
<rect x="264.1" y="258.25" width="16.4" height="62.45" fill="#1f75b3" stroke="#2a2a2a" stroke-width="0.7"/>
<line x1="272.5" y1="320.5" x2="272.5" y2="325.5" stroke="#7c7c7c" stroke-width="1"/>
<rect x="289.8" y="264.17" width="16.6" height="56.53" fill="#f5928f" stroke="#2a2a2a" stroke-width="0.7"/>
<line x1="298.5" y1="320.5" x2="298.5" y2="325.5" stroke="#7c7c7c" stroke-width="1"/>
<line x1="272.5" y1="258.25" x2="272.5" y2="251.71" stroke="#6a6a6a" stroke-width="0.9"/>
<line x1="268.2" y1="251.71" x2="276.8" y2="251.71" stroke="#6a6a6a" stroke-width="0.9"/>
<line x1="272.5" y1="264.64" x2="272.5" y2="258.25" stroke="#1e1e1e" stroke-width="0.8"/>
<line x1="268.2" y1="264.64" x2="276.8" y2="264.64" stroke="#1e1e1e" stroke-width="0.8"/>
<line x1="298.5" y1="264.17" x2="298.5" y2="256.38" stroke="#6a6a6a" stroke-width="0.9"/>
<line x1="294.2" y1="256.38" x2="302.8" y2="256.38" stroke="#6a6a6a" stroke-width="0.9"/>
<line x1="298.5" y1="270.01" x2="298.5" y2="264.17" stroke="#1e1e1e" stroke-width="0.8"/>
<line x1="294.2" y1="270.01" x2="302.8" y2="270.01" stroke="#1e1e1e" stroke-width="0.8"/>
<circle cx="272.3" cy="221.34" r="3.3" fill="#ffffff" stroke="#222222" stroke-width="0.7"/>
<circle cx="272.3" cy="236.76" r="3.3" fill="#ffffff" stroke="#222222" stroke-width="0.7"/>
<circle cx="266.9" cy="245.4" r="3.3" fill="#ffffff" stroke="#222222" stroke-width="0.7"/>
<circle cx="272.3" cy="247.74" r="3.3" fill="#ffffff" stroke="#222222" stroke-width="0.7"/>
<circle cx="277.7" cy="247.74" r="3.3" fill="#ffffff" stroke="#222222" stroke-width="0.7"/>
<circle cx="272.3" cy="261.52" r="3.3" fill="#ffffff" stroke="#222222" stroke-width="0.7"/>
<circle cx="272.3" cy="271.57" r="3.3" fill="#ffffff" stroke="#222222" stroke-width="0.7"/>
<circle cx="272.3" cy="279.27" r="3.3" fill="#ffffff" stroke="#222222" stroke-width="0.7"/>
<circle cx="266.9" cy="283.95" r="3.3" fill="#ffffff" stroke="#222222" stroke-width="0.7"/>
<circle cx="277.7" cy="280.99" r="3.3" fill="#ffffff" stroke="#222222" stroke-width="0.7"/>
<circle cx="298.2" cy="230.61" r="3.3" fill="#ffffff" stroke="#222222" stroke-width="0.7"/>
<circle cx="292.9" cy="248.28" r="3.3" fill="#ffffff" stroke="#222222" stroke-width="0.7"/>
<circle cx="303.8" cy="245.87" r="3.3" fill="#ffffff" stroke="#222222" stroke-width="0.7"/>
<circle cx="292.9" cy="255.29" r="3.3" fill="#ffffff" stroke="#222222" stroke-width="0.7"/>
<circle cx="292.9" cy="265.73" r="3.3" fill="#ffffff" stroke="#222222" stroke-width="0.7"/>
<circle cx="303.8" cy="260.66" r="3.3" fill="#ffffff" stroke="#222222" stroke-width="0.7"/>
<circle cx="292.9" cy="282.86" r="3.3" fill="#ffffff" stroke="#222222" stroke-width="0.7"/>
<circle cx="303.8" cy="288" r="3.3" fill="#ffffff" stroke="#222222" stroke-width="0.7"/>
<circle cx="292.9" cy="293.76" r="3.3" fill="#ffffff" stroke="#222222" stroke-width="0.7"/>
<line x1="272.1" y1="207.5" x2="298.1" y2="207.5" stroke="#6a6a6a" stroke-width="1"/>
<text x="284.8" y="204.6" font-size="9.6" text-anchor="middle" fill="#1a1a1a">0.50</text>
<text x="216.2" y="262.3" font-size="9.6" text-anchor="middle" transform="rotate(-90 216.2 262.3)" fill="#1a1a1a">End-point tumour volume (mm<tspan dy="-3.9" font-size="6.72">3</tspan><tspan dy="3.9">&#8203;</tspan>)</text>
<text x="275.7" y="332.8" font-size="9.6" text-anchor="end" transform="rotate(-45 275.7 332.8)" fill="#1a1a1a">Virgin</text>
<text x="302.4" y="334.3" font-size="9.6" text-anchor="end" transform="rotate(-45 302.4 334.3)" fill="#1a1a1a">d10-FW</text>
<line x1="397.5" y1="206.05" x2="397.5" y2="327.55" stroke="#7c7c7c" stroke-width="1"/>
<line x1="392.9" y1="322.5" x2="513.6" y2="322.5" stroke="#7c7c7c" stroke-width="1"/>
<text x="389.1" y="325.4" font-size="9.6" text-anchor="end" fill="#1a1a1a">0</text>
<line x1="392.9" y1="298.5" x2="397.5" y2="298.5" stroke="#7c7c7c" stroke-width="1"/>
<text x="389.1" y="302.18" font-size="9.6" text-anchor="end" fill="#1a1a1a">250</text>
<line x1="392.9" y1="275.5" x2="397.5" y2="275.5" stroke="#7c7c7c" stroke-width="1"/>
<text x="389.1" y="278.96" font-size="9.6" text-anchor="end" fill="#1a1a1a">500</text>
<line x1="392.9" y1="252.5" x2="397.5" y2="252.5" stroke="#7c7c7c" stroke-width="1"/>
<text x="389.1" y="255.74" font-size="9.6" text-anchor="end" fill="#1a1a1a">750</text>
<line x1="392.9" y1="229.5" x2="397.5" y2="229.5" stroke="#7c7c7c" stroke-width="1"/>
<text x="389.1" y="232.52" font-size="9.6" text-anchor="end" fill="#1a1a1a">1,000</text>
<line x1="392.9" y1="206.5" x2="397.5" y2="206.5" stroke="#7c7c7c" stroke-width="1"/>
<text x="389.1" y="209.3" font-size="9.6" text-anchor="end" fill="#1a1a1a">1,250</text>
<line x1="397.5" y1="322.5" x2="397.5" y2="327.1" stroke="#7c7c7c" stroke-width="1"/>
<text x="397" y="337.7" font-size="9.6" text-anchor="middle" fill="#1a1a1a">0</text>
<line x1="420.5" y1="322.5" x2="420.5" y2="327.1" stroke="#7c7c7c" stroke-width="1"/>
<text x="420.3" y="337.7" font-size="9.6" text-anchor="middle" fill="#1a1a1a">5</text>
<line x1="443.5" y1="322.5" x2="443.5" y2="327.1" stroke="#7c7c7c" stroke-width="1"/>
<text x="443.6" y="337.7" font-size="9.6" text-anchor="middle" fill="#1a1a1a">10</text>
<line x1="466.5" y1="322.5" x2="466.5" y2="327.1" stroke="#7c7c7c" stroke-width="1"/>
<text x="466.9" y="337.7" font-size="9.6" text-anchor="middle" fill="#1a1a1a">15</text>
<line x1="490.5" y1="322.5" x2="490.5" y2="327.1" stroke="#7c7c7c" stroke-width="1"/>
<text x="490.2" y="337.7" font-size="9.6" text-anchor="middle" fill="#1a1a1a">20</text>
<line x1="513.5" y1="322.5" x2="513.5" y2="327.1" stroke="#7c7c7c" stroke-width="1"/>
<text x="513.5" y="337.7" font-size="9.6" text-anchor="middle" fill="#1a1a1a">25</text>
<text x="455.5" y="351.2" font-size="9.6" text-anchor="middle" fill="#1a1a1a">Time (days)</text>
<line x1="462.24" y1="313.28" x2="462.24" y2="304.45" stroke="#666666" stroke-width="0.9"/>
<line x1="458.84" y1="313.28" x2="465.64" y2="313.28" stroke="#666666" stroke-width="0.9"/>
<line x1="458.84" y1="304.45" x2="465.64" y2="304.45" stroke="#666666" stroke-width="0.9"/>
<line x1="480.88" y1="304.92" x2="480.88" y2="291.45" stroke="#666666" stroke-width="0.9"/>
<line x1="477.48" y1="304.92" x2="484.28" y2="304.92" stroke="#666666" stroke-width="0.9"/>
<line x1="477.48" y1="291.45" x2="484.28" y2="291.45" stroke="#666666" stroke-width="0.9"/>
<line x1="494.86" y1="308.17" x2="494.86" y2="287.73" stroke="#666666" stroke-width="0.9"/>
<line x1="491.46" y1="308.17" x2="498.26" y2="308.17" stroke="#666666" stroke-width="0.9"/>
<line x1="491.46" y1="287.73" x2="498.26" y2="287.73" stroke="#666666" stroke-width="0.9"/>
<line x1="504.18" y1="302.13" x2="504.18" y2="274.27" stroke="#666666" stroke-width="0.9"/>
<line x1="500.78" y1="302.13" x2="507.58" y2="302.13" stroke="#666666" stroke-width="0.9"/>
<line x1="500.78" y1="274.27" x2="507.58" y2="274.27" stroke="#666666" stroke-width="0.9"/>
<line x1="513.5" y1="296.56" x2="513.5" y2="262.19" stroke="#666666" stroke-width="0.9"/>
<line x1="510.1" y1="296.56" x2="516.9" y2="296.56" stroke="#666666" stroke-width="0.9"/>
<line x1="510.1" y1="262.19" x2="516.9" y2="262.19" stroke="#666666" stroke-width="0.9"/>
<polyline points="401.66,320.71 424.96,319.78 438.94,315.6 462.24,308.63 480.88,298.42 494.86,298.42 504.18,288.2 513.5,279.38" fill="none" stroke="#151515" stroke-width="1"/>
<circle cx="401.66" cy="320.71" r="3.4" fill="#f47d20" stroke="#1a1a1a" stroke-width="0.7"/>
<circle cx="424.96" cy="319.78" r="3.4" fill="#f47d20" stroke="#1a1a1a" stroke-width="0.7"/>
<circle cx="438.94" cy="315.6" r="3.4" fill="#f47d20" stroke="#1a1a1a" stroke-width="0.7"/>
<circle cx="462.24" cy="308.63" r="3.4" fill="#f47d20" stroke="#1a1a1a" stroke-width="0.7"/>
<circle cx="480.88" cy="298.42" r="3.4" fill="#f47d20" stroke="#1a1a1a" stroke-width="0.7"/>
<circle cx="494.86" cy="298.42" r="3.4" fill="#f47d20" stroke="#1a1a1a" stroke-width="0.7"/>
<circle cx="504.18" cy="288.2" r="3.4" fill="#f47d20" stroke="#1a1a1a" stroke-width="0.7"/>
<circle cx="513.5" cy="279.38" r="3.4" fill="#f47d20" stroke="#1a1a1a" stroke-width="0.7"/>
<line x1="480.88" y1="280.77" x2="480.88" y2="271.48" stroke="#666666" stroke-width="0.9"/>
<line x1="477.48" y1="280.77" x2="484.28" y2="280.77" stroke="#666666" stroke-width="0.9"/>
<line x1="477.48" y1="271.48" x2="484.28" y2="271.48" stroke="#666666" stroke-width="0.9"/>
<line x1="494.86" y1="275.2" x2="494.86" y2="256.62" stroke="#666666" stroke-width="0.9"/>
<line x1="491.46" y1="275.2" x2="498.26" y2="275.2" stroke="#666666" stroke-width="0.9"/>
<line x1="491.46" y1="256.62" x2="498.26" y2="256.62" stroke="#666666" stroke-width="0.9"/>
<line x1="504.18" y1="248.72" x2="504.18" y2="234.33" stroke="#666666" stroke-width="0.9"/>
<line x1="500.78" y1="248.72" x2="507.58" y2="248.72" stroke="#666666" stroke-width="0.9"/>
<line x1="500.78" y1="234.33" x2="507.58" y2="234.33" stroke="#666666" stroke-width="0.9"/>
<line x1="513.5" y1="229.68" x2="513.5" y2="206.46" stroke="#666666" stroke-width="0.9"/>
<line x1="510.1" y1="229.68" x2="516.9" y2="229.68" stroke="#666666" stroke-width="0.9"/>
<line x1="510.1" y1="206.46" x2="516.9" y2="206.46" stroke="#666666" stroke-width="0.9"/>
<polyline points="401.66,320.71 424.96,315.6 438.94,306.31 462.24,295.16 480.88,276.12 494.86,266.37 504.18,241.76 513.5,218.07" fill="none" stroke="#151515" stroke-width="1"/>
<circle cx="401.66" cy="320.71" r="3.4" fill="#1f75b3" stroke="#1a1a1a" stroke-width="0.7"/>
<circle cx="424.96" cy="315.6" r="3.4" fill="#1f75b3" stroke="#1a1a1a" stroke-width="0.7"/>
<circle cx="438.94" cy="306.31" r="3.4" fill="#1f75b3" stroke="#1a1a1a" stroke-width="0.7"/>
<circle cx="462.24" cy="295.16" r="3.4" fill="#1f75b3" stroke="#1a1a1a" stroke-width="0.7"/>
<circle cx="480.88" cy="276.12" r="3.4" fill="#1f75b3" stroke="#1a1a1a" stroke-width="0.7"/>
<circle cx="494.86" cy="266.37" r="3.4" fill="#1f75b3" stroke="#1a1a1a" stroke-width="0.7"/>
<circle cx="504.18" cy="241.76" r="3.4" fill="#1f75b3" stroke="#1a1a1a" stroke-width="0.7"/>
<circle cx="513.5" cy="218.07" r="3.4" fill="#1f75b3" stroke="#1a1a1a" stroke-width="0.7"/>
<circle cx="407.8" cy="211.8" r="3.3" fill="#1f75b3" stroke="#2a2a2a" stroke-width="0.6"/>
<text x="415.2" y="214.9" font-size="9.6" text-anchor="start" fill="#1a1a1a">Virgin</text>
<circle cx="407.8" cy="227.5" r="3.3" fill="#f47d20" stroke="#2a2a2a" stroke-width="0.6"/>
<text x="415.2" y="230.6" font-size="9.6" text-anchor="start" fill="#1a1a1a">d28-inv</text>
<text x="357.2" y="265.55" font-size="9.6" text-anchor="middle" transform="rotate(-90 357.2 265.55)" fill="#1a1a1a">Tumour volume (mm<tspan dy="-3.9" font-size="6.72">3</tspan><tspan dy="3.9">&#8203;</tspan>)</text>
<line x1="600.5" y1="204.05" x2="600.5" y2="321.95" stroke="#7c7c7c" stroke-width="1"/>
<line x1="595.9" y1="321.5" x2="660.4" y2="321.5" stroke="#7c7c7c" stroke-width="1"/>
<text x="592" y="324.6" font-size="9.6" text-anchor="end" fill="#1a1a1a">0</text>
<line x1="595.9" y1="292.5" x2="600.5" y2="292.5" stroke="#7c7c7c" stroke-width="1"/>
<text x="592" y="295.5" font-size="9.6" text-anchor="end" fill="#1a1a1a">500</text>
<line x1="595.9" y1="263.5" x2="600.5" y2="263.5" stroke="#7c7c7c" stroke-width="1"/>
<text x="592" y="266.4" font-size="9.6" text-anchor="end" fill="#1a1a1a">1,000</text>
<line x1="595.9" y1="234.5" x2="600.5" y2="234.5" stroke="#7c7c7c" stroke-width="1"/>
<text x="592" y="237.3" font-size="9.6" text-anchor="end" fill="#1a1a1a">1,500</text>
<line x1="595.9" y1="204.5" x2="600.5" y2="204.5" stroke="#7c7c7c" stroke-width="1"/>
<text x="592" y="208.2" font-size="9.6" text-anchor="end" fill="#1a1a1a">2,000</text>
<rect x="609.6" y="256.17" width="16.4" height="65.13" fill="#1f75b3" stroke="#2a2a2a" stroke-width="0.7"/>
<line x1="617.5" y1="321.5" x2="617.5" y2="326.5" stroke="#7c7c7c" stroke-width="1"/>
<rect x="635.1" y="295.23" width="16.6" height="26.07" fill="#f47d20" stroke="#2a2a2a" stroke-width="0.7"/>
<line x1="643.5" y1="321.5" x2="643.5" y2="326.5" stroke="#7c7c7c" stroke-width="1"/>
<line x1="617.5" y1="256.17" x2="617.5" y2="248.32" stroke="#6a6a6a" stroke-width="0.9"/>
<line x1="613.2" y1="248.32" x2="621.8" y2="248.32" stroke="#6a6a6a" stroke-width="0.9"/>
<line x1="617.5" y1="262.69" x2="617.5" y2="256.17" stroke="#1e1e1e" stroke-width="0.8"/>
<line x1="613.2" y1="262.69" x2="621.8" y2="262.69" stroke="#1e1e1e" stroke-width="0.8"/>
<line x1="643.5" y1="295.23" x2="643.5" y2="283.18" stroke="#6a6a6a" stroke-width="0.9"/>
<line x1="639.2" y1="283.18" x2="647.8" y2="283.18" stroke="#6a6a6a" stroke-width="0.9"/>
<line x1="643.5" y1="305.41" x2="643.5" y2="295.23" stroke="#1e1e1e" stroke-width="0.8"/>
<line x1="639.2" y1="305.41" x2="647.8" y2="305.41" stroke="#1e1e1e" stroke-width="0.8"/>
<circle cx="612.2" cy="235.51" r="3.3" fill="#ffffff" stroke="#222222" stroke-width="0.7"/>
<circle cx="623.1" cy="232.6" r="3.3" fill="#ffffff" stroke="#222222" stroke-width="0.7"/>
<circle cx="617.5" cy="256.17" r="3.3" fill="#ffffff" stroke="#222222" stroke-width="0.7"/>
<circle cx="612.2" cy="267.12" r="3.3" fill="#ffffff" stroke="#222222" stroke-width="0.7"/>
<circle cx="623.1" cy="268.28" r="3.3" fill="#ffffff" stroke="#222222" stroke-width="0.7"/>
<circle cx="617.5" cy="276.72" r="3.3" fill="#ffffff" stroke="#222222" stroke-width="0.7"/>
<circle cx="643.3" cy="269.21" r="3.3" fill="#ffffff" stroke="#222222" stroke-width="0.7"/>
<circle cx="643.3" cy="276.02" r="3.3" fill="#ffffff" stroke="#222222" stroke-width="0.7"/>
<circle cx="643.3" cy="287.49" r="3.3" fill="#ffffff" stroke="#222222" stroke-width="0.7"/>
<circle cx="638" cy="316.88" r="3.3" fill="#ffffff" stroke="#222222" stroke-width="0.7"/>
<circle cx="648.9" cy="316.88" r="3.3" fill="#ffffff" stroke="#222222" stroke-width="0.7"/>
<line x1="613.1" y1="209.5" x2="639" y2="209.5" stroke="#6a6a6a" stroke-width="1"/>
<text x="628.9" y="206.6" font-size="9.6" text-anchor="middle" fill="#1a1a1a">0.017</text>
<text x="559.5" y="263.1" font-size="9.6" text-anchor="middle" transform="rotate(-90 559.5 263.1)" fill="#1a1a1a">End-point tumour volume (mm<tspan dy="-3.9" font-size="6.72">3</tspan><tspan dy="3.9">&#8203;</tspan>)</text>
<text x="621.2" y="333.4" font-size="9.6" text-anchor="end" transform="rotate(-45 621.2 333.4)" fill="#1a1a1a">Virgin</text>
<text x="647.7" y="334.9" font-size="9.6" text-anchor="end" transform="rotate(-45 647.7 334.9)" fill="#1a1a1a">d28-inv</text>
<path d="M64.47,398.33 A63.7,63.7 0 0 1 78.43,394.72 L82.83,426.01 A32.1,32.1 0 0 0 75.8,427.83 Z" fill="#898989" stroke="#1e1e1e" stroke-width="0.55"/>
<path d="M78.43,394.72 A63.7,63.7 0 0 1 117.21,401.56 L102.37,429.46 A32.1,32.1 0 0 0 82.83,426.01 Z" fill="#7e5c7c" stroke="#1e1e1e" stroke-width="0.55"/>
<path d="M117.21,401.56 A63.7,63.7 0 0 1 122.92,404.99 L105.25,431.19 A32.1,32.1 0 0 0 102.37,429.46 Z" fill="#b66d8e" stroke="#1e1e1e" stroke-width="0.55"/>
<path d="M122.92,404.99 A63.7,63.7 0 0 1 150.14,447.4 L118.97,452.56 A32.1,32.1 0 0 0 105.25,431.19 Z" fill="#3f5280" stroke="#1e1e1e" stroke-width="0.55"/>
<path d="M150.14,447.4 A63.7,63.7 0 0 1 138.04,496.31 L112.87,477.21 A32.1,32.1 0 0 0 118.97,452.56 Z" fill="#dc462a" stroke="#1e1e1e" stroke-width="0.55"/>
<path d="M138.31,495.96 A63.7,63.7 0 0 1 137.36,497.19 L112.53,477.65 A32.1,32.1 0 0 0 113,477.03 Z" fill="#473a78" stroke="#1e1e1e" stroke-width="0.55"/>
<path d="M137.36,497.19 A63.7,63.7 0 0 1 136.38,498.4 L112.03,478.26 A32.1,32.1 0 0 0 112.53,477.65 Z" fill="#8c4a4f" stroke="#1e1e1e" stroke-width="0.55"/>
<path d="M136.38,498.4 A63.7,63.7 0 0 1 43.86,504.39 L65.41,481.28 A32.1,32.1 0 0 0 112.03,478.26 Z" fill="#328b92" stroke="#1e1e1e" stroke-width="0.55"/>
<path d="M31.43,509.92 A63.7,63.7 0 0 1 11.19,464.44 L42.78,463.89 A32.1,32.1 0 0 0 52.98,486.81 Z" fill="#4ab470" stroke="#1e1e1e" stroke-width="0.55"/>
<path d="M23.61,458.91 A63.7,63.7 0 0 1 24.81,445.43 L55.81,451.57 A32.1,32.1 0 0 0 55.2,458.36 Z" fill="#f6d7ca" stroke="#1e1e1e" stroke-width="0.55"/>
<path d="M24.81,445.43 A63.7,63.7 0 0 1 29.38,431.28 L58.11,444.44 A32.1,32.1 0 0 0 55.81,451.57 Z" fill="#d8547a" stroke="#1e1e1e" stroke-width="0.55"/>
<path d="M29.38,431.28 A63.7,63.7 0 0 1 64.47,398.33 L75.8,427.83 A32.1,32.1 0 0 0 58.11,444.44 Z" fill="#d6d6d6" stroke="#1e1e1e" stroke-width="0.55"/>
<text x="84.4" y="465" font-size="9.6" text-anchor="middle" fill="#1a1a1a">Virgin</text>
<path d="M239.2,395 A63.7,63.7 0 0 1 267.32,401.54 L253.33,429.99 A32,32 0 0 0 239.2,426.7 Z" fill="#898989" stroke="#1e1e1e" stroke-width="0.55"/>
<path d="M267.32,401.54 A63.7,63.7 0 0 1 292.38,423.63 L265.92,441.08 A32,32 0 0 0 253.33,429.99 Z" fill="#7e5c7c" stroke="#1e1e1e" stroke-width="0.55"/>
<path d="M292.38,423.63 A63.7,63.7 0 0 1 293.22,424.94 L266.34,441.74 A32,32 0 0 0 265.92,441.08 Z" fill="#b66d8e" stroke="#1e1e1e" stroke-width="0.55"/>
<path d="M293.22,424.94 A63.7,63.7 0 0 1 301.46,472.16 L270.48,465.46 A32,32 0 0 0 266.34,441.74 Z" fill="#3f5280" stroke="#1e1e1e" stroke-width="0.55"/>
<path d="M301.46,472.16 A63.7,63.7 0 0 1 290.34,496.68 L264.89,477.78 A32,32 0 0 0 270.48,465.46 Z" fill="#dc462a" stroke="#1e1e1e" stroke-width="0.55"/>
<path d="M290.6,496.32 A63.7,63.7 0 0 1 289.53,497.74 L264.48,478.31 A32,32 0 0 0 265.02,477.6 Z" fill="#473a78" stroke="#1e1e1e" stroke-width="0.55"/>
<path d="M289.53,497.74 A63.7,63.7 0 0 1 288.42,499.13 L263.93,479.01 A32,32 0 0 0 264.48,478.31 Z" fill="#8c4a4f" stroke="#1e1e1e" stroke-width="0.55"/>
<path d="M288.42,499.13 A63.7,63.7 0 0 1 208.32,514.41 L223.69,486.69 A32,32 0 0 0 263.93,479.01 Z" fill="#328b92" stroke="#1e1e1e" stroke-width="0.55"/>
<path d="M196.12,519.72 A63.7,63.7 0 0 1 165.2,448.59 L195.95,456.26 A32,32 0 0 0 211.49,491.99 Z" fill="#4ab470" stroke="#1e1e1e" stroke-width="0.55"/>
<path d="M177.39,443.29 A63.7,63.7 0 0 1 183.17,428.4 L211.05,443.48 A32,32 0 0 0 208.15,450.96 Z" fill="#f6d7ca" stroke="#1e1e1e" stroke-width="0.55"/>
<path d="M183.17,428.4 A63.7,63.7 0 0 1 191.86,416.08 L215.42,437.29 A32,32 0 0 0 211.05,443.48 Z" fill="#d8547a" stroke="#1e1e1e" stroke-width="0.55"/>
<path d="M191.86,416.08 A63.7,63.7 0 0 1 239.2,395 L239.2,426.7 A32,32 0 0 0 215.42,437.29 Z" fill="#d6d6d6" stroke="#1e1e1e" stroke-width="0.55"/>
<text x="236.8" y="460.6" font-size="9.7" text-anchor="middle" fill="#1a1a1a">d28-inv</text>
<rect x="319.2" y="369.4" width="13.9" height="7.5" fill="#4ab470" stroke="#3a3a3a" stroke-width="0.55"/>
<text x="337.5" y="376.7" font-size="9.85" text-anchor="start" fill="#1a1a1a">CD8<tspan dy="-3.9" font-size="6.72">+</tspan><tspan dy="3.9">&#8203;</tspan> T cells</text>
<rect x="319.2" y="383" width="13.9" height="7.5" fill="#328b92" stroke="#3a3a3a" stroke-width="0.55"/>
<text x="337.5" y="390.3" font-size="9.85" text-anchor="start" fill="#1a1a1a">CD4<tspan dy="-3.9" font-size="6.72">+</tspan><tspan dy="3.9">&#8203;</tspan> T cells</text>
<rect x="319.2" y="395.5" width="13.9" height="7.5" fill="#7e5c7c" stroke="#3a3a3a" stroke-width="0.55"/>
<text x="337.5" y="402.8" font-size="9.85" text-anchor="start" fill="#1a1a1a">NK cells</text>
<rect x="319.2" y="408.3" width="13.9" height="7.5" fill="#b66d8e" stroke="#3a3a3a" stroke-width="0.55"/>
<text x="337.5" y="415.6" font-size="9.85" text-anchor="start" fill="#1a1a1a">Neutrophils</text>
<rect x="319.2" y="421" width="13.9" height="7.5" fill="#3f5280" stroke="#3a3a3a" stroke-width="0.55"/>
<text x="337.5" y="428.3" font-size="9.85" text-anchor="start" fill="#1a1a1a">M1 macrophages</text>
<rect x="319.2" y="433.8" width="13.9" height="7.5" fill="#dc462a" stroke="#3a3a3a" stroke-width="0.55"/>
<text x="337.5" y="441.1" font-size="9.85" text-anchor="start" fill="#1a1a1a">M2 macrophages</text>
<rect x="319.2" y="446.6" width="13.9" height="7.5" fill="#d2177f" stroke="#3a3a3a" stroke-width="0.55"/>
<text x="337.5" y="453.9" font-size="9.85" text-anchor="start" fill="#1a1a1a">DC1</text>
<rect x="319.2" y="459.4" width="13.9" height="7.5" fill="#8c4a4f" stroke="#3a3a3a" stroke-width="0.55"/>
<text x="337.5" y="466.7" font-size="9.85" text-anchor="start" fill="#1a1a1a">DC2</text>
<rect x="319.2" y="472" width="13.9" height="7.5" fill="#f8b38e" stroke="#3a3a3a" stroke-width="0.55"/>
<text x="337.5" y="479.3" font-size="9.85" text-anchor="start" fill="#1a1a1a">Monocytes</text>
<rect x="319.2" y="486.4" width="13.9" height="7.5" fill="#d8547a" stroke="#3a3a3a" stroke-width="0.55"/>
<text x="337.5" y="493.7" font-size="9.85" text-anchor="start" fill="#1a1a1a">TCR&#947;&#948;<tspan dy="-3.9" font-size="6.72">+</tspan><tspan dy="3.9">&#8203;</tspan> cells</text>
<rect x="319.2" y="498.8" width="13.9" height="7.5" fill="#f6d7ca" stroke="#3a3a3a" stroke-width="0.55"/>
<text x="337.5" y="506.1" font-size="9.85" text-anchor="start" fill="#1a1a1a">CD4<tspan dy="-3.9" font-size="6.72">&#8211;</tspan><tspan dy="3.9">&#8203;</tspan>CD8<tspan dy="-3.9" font-size="6.72">&#8211;</tspan><tspan dy="3.9">&#8203;</tspan> T cells</text>
<rect x="319.2" y="510.4" width="13.9" height="7.5" fill="#898989" stroke="#3a3a3a" stroke-width="0.55"/>
<text x="337.5" y="517.7" font-size="9.85" text-anchor="start" fill="#1a1a1a">B cells</text>
<rect x="319.2" y="522.6" width="13.9" height="7.5" fill="#d6d6d6" stroke="#3a3a3a" stroke-width="0.55"/>
<text x="337.5" y="529.9" font-size="9.85" text-anchor="start" fill="#1a1a1a">Other</text>
<line x1="480.5" y1="384.05" x2="480.5" y2="500.95" stroke="#7c7c7c" stroke-width="1"/>
<line x1="475.9" y1="500.5" x2="540.2" y2="500.5" stroke="#7c7c7c" stroke-width="1"/>
<text x="472.1" y="503.5" font-size="9.6" text-anchor="end" fill="#1a1a1a">0</text>
<line x1="475.9" y1="477.5" x2="480.5" y2="477.5" stroke="#7c7c7c" stroke-width="1"/>
<text x="472.1" y="480.34" font-size="9.6" text-anchor="end" fill="#1a1a1a">0.5</text>
<line x1="475.9" y1="453.5" x2="480.5" y2="453.5" stroke="#7c7c7c" stroke-width="1"/>
<text x="472.1" y="457.18" font-size="9.6" text-anchor="end" fill="#1a1a1a">1.0</text>
<line x1="475.9" y1="430.5" x2="480.5" y2="430.5" stroke="#7c7c7c" stroke-width="1"/>
<text x="472.1" y="434.02" font-size="9.6" text-anchor="end" fill="#1a1a1a">1.5</text>
<line x1="475.9" y1="407.5" x2="480.5" y2="407.5" stroke="#7c7c7c" stroke-width="1"/>
<text x="472.1" y="410.86" font-size="9.6" text-anchor="end" fill="#1a1a1a">2.0</text>
<line x1="475.9" y1="384.5" x2="480.5" y2="384.5" stroke="#7c7c7c" stroke-width="1"/>
<text x="472.1" y="387.7" font-size="9.6" text-anchor="end" fill="#1a1a1a">2.5</text>
<rect x="489.6" y="476.72" width="16.4" height="23.48" fill="#1f75b3" stroke="#2a2a2a" stroke-width="0.7"/>
<line x1="497.5" y1="500.5" x2="497.5" y2="505.5" stroke="#7c7c7c" stroke-width="1"/>
<rect x="515.5" y="451.01" width="16.3" height="49.19" fill="#f47d20" stroke="#2a2a2a" stroke-width="0.7"/>
<line x1="523.5" y1="500.5" x2="523.5" y2="505.5" stroke="#7c7c7c" stroke-width="1"/>
<line x1="497.5" y1="476.72" x2="497.5" y2="470.18" stroke="#6a6a6a" stroke-width="0.9"/>
<line x1="493.2" y1="470.18" x2="501.8" y2="470.18" stroke="#6a6a6a" stroke-width="0.9"/>
<line x1="497.5" y1="481.67" x2="497.5" y2="476.72" stroke="#1e1e1e" stroke-width="0.8"/>
<line x1="493.2" y1="481.67" x2="501.8" y2="481.67" stroke="#1e1e1e" stroke-width="0.8"/>
<line x1="523.5" y1="451.01" x2="523.5" y2="442.76" stroke="#6a6a6a" stroke-width="0.9"/>
<line x1="519.2" y1="442.76" x2="527.8" y2="442.76" stroke="#6a6a6a" stroke-width="0.9"/>
<line x1="523.5" y1="459.44" x2="523.5" y2="451.01" stroke="#1e1e1e" stroke-width="0.8"/>
<line x1="519.2" y1="459.44" x2="527.8" y2="459.44" stroke="#1e1e1e" stroke-width="0.8"/>
<circle cx="497.6" cy="460.6" r="3.3" fill="#ffffff" stroke="#222222" stroke-width="0.7"/>
<circle cx="503.1" cy="456.29" r="3.3" fill="#ffffff" stroke="#222222" stroke-width="0.7"/>
<circle cx="492.3" cy="471.9" r="3.3" fill="#ffffff" stroke="#222222" stroke-width="0.7"/>
<circle cx="503.1" cy="472.41" r="3.3" fill="#ffffff" stroke="#222222" stroke-width="0.7"/>
<circle cx="497.6" cy="477.97" r="3.3" fill="#ffffff" stroke="#222222" stroke-width="0.7"/>
<circle cx="503.1" cy="479.82" r="3.3" fill="#ffffff" stroke="#222222" stroke-width="0.7"/>
<circle cx="497.6" cy="485.84" r="3.3" fill="#ffffff" stroke="#222222" stroke-width="0.7"/>
<circle cx="503.1" cy="486.3" r="3.3" fill="#ffffff" stroke="#222222" stroke-width="0.7"/>
<circle cx="492.3" cy="490.94" r="3.3" fill="#ffffff" stroke="#222222" stroke-width="0.7"/>
<circle cx="497.6" cy="472.41" r="3.3" fill="#ffffff" stroke="#222222" stroke-width="0.7"/>
<circle cx="523.5" cy="395.98" r="3.3" fill="#ffffff" stroke="#222222" stroke-width="0.7"/>
<circle cx="523.5" cy="412.19" r="3.3" fill="#ffffff" stroke="#222222" stroke-width="0.7"/>
<circle cx="523.5" cy="430.72" r="3.3" fill="#ffffff" stroke="#222222" stroke-width="0.7"/>
<circle cx="523.5" cy="438.59" r="3.3" fill="#ffffff" stroke="#222222" stroke-width="0.7"/>
<circle cx="517.5" cy="466.39" r="3.3" fill="#ffffff" stroke="#222222" stroke-width="0.7"/>
<circle cx="523.5" cy="465.18" r="3.3" fill="#ffffff" stroke="#222222" stroke-width="0.7"/>
<circle cx="529.2" cy="466.39" r="3.3" fill="#ffffff" stroke="#222222" stroke-width="0.7"/>
<circle cx="523.5" cy="472.41" r="3.3" fill="#ffffff" stroke="#222222" stroke-width="0.7"/>
<circle cx="529.2" cy="477.04" r="3.3" fill="#ffffff" stroke="#222222" stroke-width="0.7"/>
<circle cx="517.5" cy="480.98" r="3.3" fill="#ffffff" stroke="#222222" stroke-width="0.7"/>
<line x1="497.4" y1="390.5" x2="523.3" y2="390.5" stroke="#5a5a5a" stroke-width="1"/>
<text x="510.5" y="388.6" font-size="9.6" text-anchor="middle" fill="#1a1a1a">0.035</text>
<text x="449.7" y="443.3" font-size="9.6" text-anchor="middle" transform="rotate(-90 449.7 443.3)" fill="#1a1a1a">CD8<tspan dy="-3.9" font-size="6.72">+</tspan><tspan dy="3.9">&#8203;</tspan>:CD4<tspan dy="-3.9" font-size="6.72">+</tspan><tspan dy="3.9">&#8203;</tspan> cell ratio</text>
<text x="501.2" y="511.4" font-size="9.6" text-anchor="end" transform="rotate(-45 501.2 511.4)" fill="#1a1a1a">Virgin</text>
<text x="527.05" y="511.4" font-size="9.6" text-anchor="end" transform="rotate(-45 527.05 511.4)" fill="#1a1a1a">d28-inv</text>
<line x1="602.5" y1="384.05" x2="602.5" y2="500.95" stroke="#7c7c7c" stroke-width="1"/>
<line x1="597.9" y1="500.5" x2="662.2" y2="500.5" stroke="#7c7c7c" stroke-width="1"/>
<text x="594" y="504" font-size="9.6" text-anchor="end" fill="#1a1a1a">0</text>
<line x1="597.9" y1="471.5" x2="602.5" y2="471.5" stroke="#7c7c7c" stroke-width="1"/>
<text x="594" y="474.93" font-size="9.6" text-anchor="end" fill="#1a1a1a">10</text>
<line x1="597.9" y1="442.5" x2="602.5" y2="442.5" stroke="#7c7c7c" stroke-width="1"/>
<text x="594" y="445.85" font-size="9.6" text-anchor="end" fill="#1a1a1a">20</text>
<line x1="597.9" y1="413.5" x2="602.5" y2="413.5" stroke="#7c7c7c" stroke-width="1"/>
<text x="594" y="416.77" font-size="9.6" text-anchor="end" fill="#1a1a1a">30</text>
<line x1="597.9" y1="384.5" x2="602.5" y2="384.5" stroke="#7c7c7c" stroke-width="1"/>
<text x="594" y="387.7" font-size="9.6" text-anchor="end" fill="#1a1a1a">40</text>
<rect x="611.4" y="464.36" width="16" height="36.34" fill="#1f75b3" stroke="#2a2a2a" stroke-width="0.7"/>
<line x1="619.5" y1="500.5" x2="619.5" y2="505.5" stroke="#7c7c7c" stroke-width="1"/>
<rect x="637.3" y="441.24" width="16" height="59.46" fill="#f47d20" stroke="#2a2a2a" stroke-width="0.7"/>
<line x1="645.5" y1="500.5" x2="645.5" y2="505.5" stroke="#7c7c7c" stroke-width="1"/>
<line x1="619.5" y1="464.36" x2="619.5" y2="459.12" stroke="#6a6a6a" stroke-width="0.9"/>
<line x1="615.2" y1="459.12" x2="623.8" y2="459.12" stroke="#6a6a6a" stroke-width="0.9"/>
<line x1="619.5" y1="469.59" x2="619.5" y2="464.36" stroke="#1e1e1e" stroke-width="0.8"/>
<line x1="615.2" y1="469.59" x2="623.8" y2="469.59" stroke="#1e1e1e" stroke-width="0.8"/>
<line x1="645.5" y1="441.24" x2="645.5" y2="434.7" stroke="#6a6a6a" stroke-width="0.9"/>
<line x1="641.2" y1="434.7" x2="649.8" y2="434.7" stroke="#6a6a6a" stroke-width="0.9"/>
<line x1="645.5" y1="448.07" x2="645.5" y2="441.24" stroke="#1e1e1e" stroke-width="0.8"/>
<line x1="641.2" y1="448.07" x2="649.8" y2="448.07" stroke="#1e1e1e" stroke-width="0.8"/>
<circle cx="619.3" cy="440.81" r="3.3" fill="#ffffff" stroke="#222222" stroke-width="0.7"/>
<circle cx="616.6" cy="451.56" r="3.3" fill="#ffffff" stroke="#222222" stroke-width="0.7"/>
<circle cx="622.1" cy="452.14" r="3.3" fill="#ffffff" stroke="#222222" stroke-width="0.7"/>
<circle cx="619.3" cy="459.12" r="3.3" fill="#ffffff" stroke="#222222" stroke-width="0.7"/>
<circle cx="613.8" cy="470.75" r="3.3" fill="#ffffff" stroke="#222222" stroke-width="0.7"/>
<circle cx="625" cy="464.65" r="3.3" fill="#ffffff" stroke="#222222" stroke-width="0.7"/>
<circle cx="625" cy="472.5" r="3.3" fill="#ffffff" stroke="#222222" stroke-width="0.7"/>
<circle cx="619.3" cy="476.28" r="3.3" fill="#ffffff" stroke="#222222" stroke-width="0.7"/>
<circle cx="619.3" cy="483.25" r="3.3" fill="#ffffff" stroke="#222222" stroke-width="0.7"/>
<circle cx="645.2" cy="396.9" r="3.3" fill="#ffffff" stroke="#222222" stroke-width="0.7"/>
<circle cx="645.2" cy="416.67" r="3.3" fill="#ffffff" stroke="#222222" stroke-width="0.7"/>
<circle cx="645.2" cy="423.94" r="3.3" fill="#ffffff" stroke="#222222" stroke-width="0.7"/>
<circle cx="645.2" cy="431.5" r="3.3" fill="#ffffff" stroke="#222222" stroke-width="0.7"/>
<circle cx="639.4" cy="450.98" r="3.3" fill="#ffffff" stroke="#222222" stroke-width="0.7"/>
<circle cx="645.2" cy="452.14" r="3.3" fill="#ffffff" stroke="#222222" stroke-width="0.7"/>
<circle cx="650.4" cy="449.24" r="3.3" fill="#ffffff" stroke="#222222" stroke-width="0.7"/>
<circle cx="645.2" cy="459.12" r="3.3" fill="#ffffff" stroke="#222222" stroke-width="0.7"/>
<circle cx="639.4" cy="464.36" r="3.3" fill="#ffffff" stroke="#222222" stroke-width="0.7"/>
<circle cx="650.4" cy="464.36" r="3.3" fill="#ffffff" stroke="#222222" stroke-width="0.7"/>
<line x1="619.2" y1="388.5" x2="645" y2="388.5" stroke="#6a6a6a" stroke-width="1"/>
<text x="631.1" y="384.5" font-size="9.6" text-anchor="middle" fill="#1a1a1a">0.017</text>
<text x="564.5" y="442.55" font-size="9.6" text-anchor="middle" transform="rotate(-90 564.5 442.55)" fill="#1a1a1a">Percentage of CD8<tspan dy="-3.9" font-size="6.72">+</tspan><tspan dy="3.9">&#8203;</tspan> cells of</text>
<text x="574.6" y="442.55" font-size="9.6" text-anchor="middle" transform="rotate(-90 574.6 442.55)" fill="#1a1a1a">CD45<tspan dy="-3.9" font-size="6.72">+</tspan><tspan dy="3.9">&#8203;</tspan> cells</text>
<text x="622.8" y="511.9" font-size="9.6" text-anchor="end" transform="rotate(-45 622.8 511.9)" fill="#1a1a1a">Virgin</text>
<text x="648.7" y="511.9" font-size="9.6" text-anchor="end" transform="rotate(-45 648.7 511.9)" fill="#1a1a1a">d28-inv</text>
<line x1="46.5" y1="554.05" x2="46.5" y2="670.95" stroke="#7c7c7c" stroke-width="1"/>
<line x1="41.9" y1="670.5" x2="106.4" y2="670.5" stroke="#7c7c7c" stroke-width="1"/>
<text x="38.4" y="673.8" font-size="9.6" text-anchor="end" fill="#1a1a1a">0</text>
<line x1="41.9" y1="631.5" x2="46.5" y2="631.5" stroke="#7c7c7c" stroke-width="1"/>
<text x="38.4" y="634.97" font-size="9.6" text-anchor="end" fill="#1a1a1a">2</text>
<line x1="41.9" y1="592.5" x2="46.5" y2="592.5" stroke="#7c7c7c" stroke-width="1"/>
<text x="38.4" y="596.13" font-size="9.6" text-anchor="end" fill="#1a1a1a">4</text>
<line x1="41.9" y1="554.5" x2="46.5" y2="554.5" stroke="#7c7c7c" stroke-width="1"/>
<text x="38.4" y="557.3" font-size="9.6" text-anchor="end" fill="#1a1a1a">6</text>
<rect x="55.7" y="638.46" width="16.1" height="32.04" fill="#1f75b3" stroke="#2a2a2a" stroke-width="0.7"/>
<line x1="63.5" y1="670.5" x2="63.5" y2="675.5" stroke="#7c7c7c" stroke-width="1"/>
<rect x="81.6" y="609.92" width="15.9" height="60.58" fill="#f47d20" stroke="#2a2a2a" stroke-width="0.7"/>
<line x1="89.5" y1="670.5" x2="89.5" y2="675.5" stroke="#7c7c7c" stroke-width="1"/>
<line x1="63.5" y1="638.46" x2="63.5" y2="634.58" stroke="#6a6a6a" stroke-width="0.9"/>
<line x1="59.2" y1="634.58" x2="67.8" y2="634.58" stroke="#6a6a6a" stroke-width="0.9"/>
<line x1="63.5" y1="642.35" x2="63.5" y2="638.46" stroke="#1e1e1e" stroke-width="0.8"/>
<line x1="59.2" y1="642.35" x2="67.8" y2="642.35" stroke="#1e1e1e" stroke-width="0.8"/>
<line x1="89.5" y1="609.92" x2="89.5" y2="599.24" stroke="#6a6a6a" stroke-width="0.9"/>
<line x1="85.2" y1="599.24" x2="93.8" y2="599.24" stroke="#6a6a6a" stroke-width="0.9"/>
<line x1="89.5" y1="619.24" x2="89.5" y2="609.92" stroke="#1e1e1e" stroke-width="0.8"/>
<line x1="85.2" y1="619.24" x2="93.8" y2="619.24" stroke="#1e1e1e" stroke-width="0.8"/>
<circle cx="65.4" cy="616.33" r="3.3" fill="#ffffff" stroke="#222222" stroke-width="0.7"/>
<circle cx="61.7" cy="623.12" r="3.3" fill="#ffffff" stroke="#222222" stroke-width="0.7"/>
<circle cx="61.7" cy="632.64" r="3.3" fill="#ffffff" stroke="#222222" stroke-width="0.7"/>
<circle cx="68.9" cy="636.52" r="3.3" fill="#ffffff" stroke="#222222" stroke-width="0.7"/>
<circle cx="58.3" cy="641.38" r="3.3" fill="#ffffff" stroke="#222222" stroke-width="0.7"/>
<circle cx="65.4" cy="643.9" r="3.3" fill="#ffffff" stroke="#222222" stroke-width="0.7"/>
<circle cx="61.7" cy="644.87" r="3.3" fill="#ffffff" stroke="#222222" stroke-width="0.7"/>
<circle cx="68.9" cy="646.23" r="3.3" fill="#ffffff" stroke="#222222" stroke-width="0.7"/>
<circle cx="63.5" cy="654.58" r="3.3" fill="#ffffff" stroke="#222222" stroke-width="0.7"/>
<circle cx="83.9" cy="574" r="3.3" fill="#ffffff" stroke="#222222" stroke-width="0.7"/>
<circle cx="89.7" cy="574.58" r="3.3" fill="#ffffff" stroke="#222222" stroke-width="0.7"/>
<circle cx="95.1" cy="573.42" r="3.3" fill="#ffffff" stroke="#222222" stroke-width="0.7"/>
<circle cx="89.7" cy="589.92" r="3.3" fill="#ffffff" stroke="#222222" stroke-width="0.7"/>
<circle cx="89.7" cy="605.26" r="3.3" fill="#ffffff" stroke="#222222" stroke-width="0.7"/>
<circle cx="89.7" cy="616.13" r="3.3" fill="#ffffff" stroke="#222222" stroke-width="0.7"/>
<circle cx="92.2" cy="624.87" r="3.3" fill="#ffffff" stroke="#222222" stroke-width="0.7"/>
<circle cx="86.8" cy="628.95" r="3.3" fill="#ffffff" stroke="#222222" stroke-width="0.7"/>
<circle cx="92.2" cy="650.11" r="3.3" fill="#ffffff" stroke="#222222" stroke-width="0.7"/>
<circle cx="86.8" cy="654.97" r="3.3" fill="#ffffff" stroke="#222222" stroke-width="0.7"/>
<line x1="63.3" y1="565.5" x2="89.6" y2="565.5" stroke="#5a5a5a" stroke-width="1"/>
<text x="76.8" y="561.4" font-size="9.6" text-anchor="middle" fill="#1a1a1a">0.053</text>
<text x="24.6" y="612.25" font-size="9.6" text-anchor="middle" transform="rotate(-90 24.6 612.25)" fill="#1a1a1a">CD45<tspan dy="-3.9" font-size="6.72">+</tspan><tspan dy="3.9">&#8203;</tspan> cells per g (&#215;10<tspan dy="-3.9" font-size="6.72">6</tspan><tspan dy="3.9">&#8203;</tspan>)</text>
<text x="67.15" y="681.7" font-size="9.6" text-anchor="end" transform="rotate(-45 67.15 681.7)" fill="#1a1a1a">Virgin</text>
<text x="92.95" y="681.7" font-size="9.6" text-anchor="end" transform="rotate(-45 92.95 681.7)" fill="#1a1a1a">d28-inv</text>
<line x1="153.5" y1="553.05" x2="153.5" y2="669.95" stroke="#7c7c7c" stroke-width="1"/>
<line x1="148.9" y1="669.5" x2="213.3" y2="669.5" stroke="#7c7c7c" stroke-width="1"/>
<text x="144.9" y="672.6" font-size="9.6" text-anchor="end" fill="#1a1a1a">0</text>
<line x1="148.9" y1="630.5" x2="153.5" y2="630.5" stroke="#7c7c7c" stroke-width="1"/>
<text x="144.9" y="633.9" font-size="9.6" text-anchor="end" fill="#1a1a1a">1</text>
<line x1="148.9" y1="591.5" x2="153.5" y2="591.5" stroke="#7c7c7c" stroke-width="1"/>
<text x="144.9" y="595.2" font-size="9.6" text-anchor="end" fill="#1a1a1a">2</text>
<line x1="148.9" y1="553.5" x2="153.5" y2="553.5" stroke="#7c7c7c" stroke-width="1"/>
<text x="144.9" y="556.5" font-size="9.6" text-anchor="end" fill="#1a1a1a">3</text>
<rect x="162.8" y="641.05" width="16.1" height="28.25" fill="#1f75b3" stroke="#2a2a2a" stroke-width="0.7"/>
<line x1="170.5" y1="669.5" x2="170.5" y2="674.5" stroke="#7c7c7c" stroke-width="1"/>
<rect x="188.6" y="614.73" width="16.2" height="54.57" fill="#f47d20" stroke="#2a2a2a" stroke-width="0.7"/>
<line x1="196.5" y1="669.5" x2="196.5" y2="674.5" stroke="#7c7c7c" stroke-width="1"/>
<line x1="170.5" y1="641.05" x2="170.5" y2="636.02" stroke="#6a6a6a" stroke-width="0.9"/>
<line x1="166.2" y1="636.02" x2="174.8" y2="636.02" stroke="#6a6a6a" stroke-width="0.9"/>
<line x1="170.5" y1="646.08" x2="170.5" y2="641.05" stroke="#1e1e1e" stroke-width="0.8"/>
<line x1="166.2" y1="646.08" x2="174.8" y2="646.08" stroke="#1e1e1e" stroke-width="0.8"/>
<line x1="196.5" y1="614.73" x2="196.5" y2="606.22" stroke="#6a6a6a" stroke-width="0.9"/>
<line x1="192.2" y1="606.22" x2="200.8" y2="606.22" stroke="#6a6a6a" stroke-width="0.9"/>
<line x1="196.5" y1="622.86" x2="196.5" y2="614.73" stroke="#1e1e1e" stroke-width="0.8"/>
<line x1="192.2" y1="622.86" x2="200.8" y2="622.86" stroke="#1e1e1e" stroke-width="0.8"/>
<circle cx="169.2" cy="622.09" r="3.3" fill="#ffffff" stroke="#222222" stroke-width="0.7"/>
<circle cx="172.5" cy="619.38" r="3.3" fill="#ffffff" stroke="#222222" stroke-width="0.7"/>
<circle cx="172.5" cy="635.63" r="3.3" fill="#ffffff" stroke="#222222" stroke-width="0.7"/>
<circle cx="170.6" cy="640.27" r="3.3" fill="#ffffff" stroke="#222222" stroke-width="0.7"/>
<circle cx="176" cy="643.76" r="3.3" fill="#ffffff" stroke="#222222" stroke-width="0.7"/>
<circle cx="172.5" cy="646.85" r="3.3" fill="#ffffff" stroke="#222222" stroke-width="0.7"/>
<circle cx="168.6" cy="649.95" r="3.3" fill="#ffffff" stroke="#222222" stroke-width="0.7"/>
<circle cx="174.5" cy="650.34" r="3.3" fill="#ffffff" stroke="#222222" stroke-width="0.7"/>
<circle cx="170.6" cy="656.92" r="3.3" fill="#ffffff" stroke="#222222" stroke-width="0.7"/>
<circle cx="196.4" cy="574.49" r="3.3" fill="#ffffff" stroke="#222222" stroke-width="0.7"/>
<circle cx="191.2" cy="591.51" r="3.3" fill="#ffffff" stroke="#222222" stroke-width="0.7"/>
<circle cx="196.4" cy="591.51" r="3.3" fill="#ffffff" stroke="#222222" stroke-width="0.7"/>
<circle cx="201.7" cy="597.32" r="3.3" fill="#ffffff" stroke="#222222" stroke-width="0.7"/>
<circle cx="193.9" cy="618.22" r="3.3" fill="#ffffff" stroke="#222222" stroke-width="0.7"/>
<circle cx="199.3" cy="617.83" r="3.3" fill="#ffffff" stroke="#222222" stroke-width="0.7"/>
<circle cx="199.3" cy="624.79" r="3.3" fill="#ffffff" stroke="#222222" stroke-width="0.7"/>
<circle cx="193.9" cy="630.21" r="3.3" fill="#ffffff" stroke="#222222" stroke-width="0.7"/>
<circle cx="193.9" cy="649.56" r="3.3" fill="#ffffff" stroke="#222222" stroke-width="0.7"/>
<circle cx="199.3" cy="649.56" r="3.3" fill="#ffffff" stroke="#222222" stroke-width="0.7"/>
<line x1="171" y1="565.5" x2="196.5" y2="565.5" stroke="#5a5a5a" stroke-width="1"/>
<text x="183.6" y="561.4" font-size="9.6" text-anchor="middle" fill="#1a1a1a">0.022</text>
<text x="128" y="611.25" font-size="9.6" text-anchor="middle" transform="rotate(-90 128 611.25)" fill="#1a1a1a">T cells per g (&#215;10<tspan dy="-3.9" font-size="6.72">6</tspan><tspan dy="3.9">&#8203;</tspan>)</text>
<text x="174.25" y="680.5" font-size="9.6" text-anchor="end" transform="rotate(-45 174.25 680.5)" fill="#1a1a1a">Virgin</text>
<text x="200.1" y="680.5" font-size="9.6" text-anchor="end" transform="rotate(-45 200.1 680.5)" fill="#1a1a1a">d28-inv</text>
<line x1="270.5" y1="551.05" x2="270.5" y2="667.95" stroke="#7c7c7c" stroke-width="1"/>
<line x1="265.9" y1="667.5" x2="331.1" y2="667.5" stroke="#7c7c7c" stroke-width="1"/>
<text x="262.7" y="670.9" font-size="9.6" text-anchor="end" fill="#1a1a1a">0</text>
<line x1="265.9" y1="609.5" x2="270.5" y2="609.5" stroke="#7c7c7c" stroke-width="1"/>
<text x="262.7" y="612.75" font-size="9.6" text-anchor="end" fill="#1a1a1a">1</text>
<line x1="265.9" y1="551.5" x2="270.5" y2="551.5" stroke="#7c7c7c" stroke-width="1"/>
<text x="262.7" y="554.6" font-size="9.6" text-anchor="end" fill="#1a1a1a">2</text>
<rect x="279.8" y="655.97" width="15.9" height="11.63" fill="#1f75b3" stroke="#2a2a2a" stroke-width="0.7"/>
<line x1="287.5" y1="667.5" x2="287.5" y2="672.5" stroke="#7c7c7c" stroke-width="1"/>
<rect x="305.4" y="637.94" width="16.5" height="29.66" fill="#f47d20" stroke="#2a2a2a" stroke-width="0.7"/>
<line x1="313.5" y1="667.5" x2="313.5" y2="672.5" stroke="#7c7c7c" stroke-width="1"/>
<line x1="287.5" y1="655.97" x2="287.5" y2="652.48" stroke="#6a6a6a" stroke-width="0.9"/>
<line x1="283.2" y1="652.48" x2="291.8" y2="652.48" stroke="#6a6a6a" stroke-width="0.9"/>
<line x1="287.5" y1="658.3" x2="287.5" y2="655.97" stroke="#1e1e1e" stroke-width="0.8"/>
<line x1="283.2" y1="658.3" x2="291.8" y2="658.3" stroke="#1e1e1e" stroke-width="0.8"/>
<line x1="313.5" y1="637.94" x2="313.5" y2="632.71" stroke="#6a6a6a" stroke-width="0.9"/>
<line x1="309.2" y1="632.71" x2="317.8" y2="632.71" stroke="#6a6a6a" stroke-width="0.9"/>
<line x1="313.5" y1="642.6" x2="313.5" y2="637.94" stroke="#1e1e1e" stroke-width="0.8"/>
<line x1="309.2" y1="642.6" x2="317.8" y2="642.6" stroke="#1e1e1e" stroke-width="0.8"/>
<circle cx="288" cy="634.45" r="3.3" fill="#ffffff" stroke="#222222" stroke-width="0.7"/>
<circle cx="288" cy="643.76" r="3.3" fill="#ffffff" stroke="#222222" stroke-width="0.7"/>
<circle cx="283.1" cy="653.06" r="3.3" fill="#ffffff" stroke="#222222" stroke-width="0.7"/>
<circle cx="288" cy="653.64" r="3.3" fill="#ffffff" stroke="#222222" stroke-width="0.7"/>
<circle cx="293.2" cy="655.97" r="3.3" fill="#ffffff" stroke="#222222" stroke-width="0.7"/>
<circle cx="285.4" cy="657.71" r="3.3" fill="#ffffff" stroke="#222222" stroke-width="0.7"/>
<circle cx="290.9" cy="661.78" r="3.3" fill="#ffffff" stroke="#222222" stroke-width="0.7"/>
<circle cx="285.4" cy="664.11" r="3.3" fill="#ffffff" stroke="#222222" stroke-width="0.7"/>
<circle cx="313.8" cy="591.42" r="3.3" fill="#ffffff" stroke="#222222" stroke-width="0.7"/>
<circle cx="308.3" cy="626.31" r="3.3" fill="#ffffff" stroke="#222222" stroke-width="0.7"/>
<circle cx="319" cy="625.73" r="3.3" fill="#ffffff" stroke="#222222" stroke-width="0.7"/>
<circle cx="313.8" cy="631.55" r="3.3" fill="#ffffff" stroke="#222222" stroke-width="0.7"/>
<circle cx="308.3" cy="635.04" r="3.3" fill="#ffffff" stroke="#222222" stroke-width="0.7"/>
<circle cx="319" cy="635.04" r="3.3" fill="#ffffff" stroke="#222222" stroke-width="0.7"/>
<circle cx="313.8" cy="638.52" r="3.3" fill="#ffffff" stroke="#222222" stroke-width="0.7"/>
<circle cx="308.3" cy="651.9" r="3.3" fill="#ffffff" stroke="#222222" stroke-width="0.7"/>
<circle cx="313.8" cy="649.57" r="3.3" fill="#ffffff" stroke="#222222" stroke-width="0.7"/>
<circle cx="319" cy="651.32" r="3.3" fill="#ffffff" stroke="#222222" stroke-width="0.7"/>
<line x1="288" y1="565.5" x2="313.7" y2="565.5" stroke="#6a6a6a" stroke-width="1"/>
<text x="301.6" y="561.8" font-size="9.6" text-anchor="middle" fill="#1a1a1a">0.002</text>
<text x="247.7" y="609.45" font-size="9.6" text-anchor="middle" transform="rotate(-90 247.7 609.45)" fill="#1a1a1a">CD8<tspan dy="-3.9" font-size="6.72">+</tspan><tspan dy="3.9">&#8203;</tspan> T cells per g (&#215;10<tspan dy="-3.9" font-size="6.72">6</tspan><tspan dy="3.9">&#8203;</tspan>)</text>
<text x="291.15" y="678.8" font-size="9.6" text-anchor="end" transform="rotate(-45 291.15 678.8)" fill="#1a1a1a">Virgin</text>
<text x="317.05" y="678.8" font-size="9.6" text-anchor="end" transform="rotate(-45 317.05 678.8)" fill="#1a1a1a">d28-inv</text>
<line x1="391.5" y1="549.05" x2="391.5" y2="666.95" stroke="#7c7c7c" stroke-width="1"/>
<line x1="386.9" y1="666.5" x2="452.2" y2="666.5" stroke="#7c7c7c" stroke-width="1"/>
<text x="383.6" y="669.7" font-size="9.6" text-anchor="end" fill="#1a1a1a">0</text>
<line x1="386.9" y1="642.5" x2="391.5" y2="642.5" stroke="#7c7c7c" stroke-width="1"/>
<text x="383.6" y="646.24" font-size="9.6" text-anchor="end" fill="#1a1a1a">0.2</text>
<line x1="386.9" y1="619.5" x2="391.5" y2="619.5" stroke="#7c7c7c" stroke-width="1"/>
<text x="383.6" y="622.78" font-size="9.6" text-anchor="end" fill="#1a1a1a">0.4</text>
<line x1="386.9" y1="596.5" x2="391.5" y2="596.5" stroke="#7c7c7c" stroke-width="1"/>
<text x="383.6" y="599.32" font-size="9.6" text-anchor="end" fill="#1a1a1a">0.6</text>
<line x1="386.9" y1="572.5" x2="391.5" y2="572.5" stroke="#7c7c7c" stroke-width="1"/>
<text x="383.6" y="575.86" font-size="9.6" text-anchor="end" fill="#1a1a1a">0.8</text>
<line x1="386.9" y1="549.5" x2="391.5" y2="549.5" stroke="#7c7c7c" stroke-width="1"/>
<text x="383.6" y="552.4" font-size="9.6" text-anchor="end" fill="#1a1a1a">1.0</text>
<rect x="400.8" y="654.2" width="16.5" height="12.2" fill="#1f75b3" stroke="#2a2a2a" stroke-width="0.7"/>
<line x1="409.5" y1="666.5" x2="409.5" y2="671.5" stroke="#7c7c7c" stroke-width="1"/>
<rect x="426.8" y="631.21" width="16.5" height="35.19" fill="#f47d20" stroke="#2a2a2a" stroke-width="0.7"/>
<line x1="435.5" y1="666.5" x2="435.5" y2="671.5" stroke="#7c7c7c" stroke-width="1"/>
<line x1="409.5" y1="654.2" x2="409.5" y2="649.98" stroke="#6a6a6a" stroke-width="0.9"/>
<line x1="405.2" y1="649.98" x2="413.8" y2="649.98" stroke="#6a6a6a" stroke-width="0.9"/>
<line x1="409.5" y1="658.19" x2="409.5" y2="654.2" stroke="#1e1e1e" stroke-width="0.8"/>
<line x1="405.2" y1="658.19" x2="413.8" y2="658.19" stroke="#1e1e1e" stroke-width="0.8"/>
<line x1="435.5" y1="631.21" x2="435.5" y2="624.17" stroke="#6a6a6a" stroke-width="0.9"/>
<line x1="431.2" y1="624.17" x2="439.8" y2="624.17" stroke="#6a6a6a" stroke-width="0.9"/>
<line x1="435.5" y1="638.25" x2="435.5" y2="631.21" stroke="#1e1e1e" stroke-width="0.8"/>
<line x1="431.2" y1="638.25" x2="439.8" y2="638.25" stroke="#1e1e1e" stroke-width="0.8"/>
<circle cx="410.9" cy="634.73" r="3.3" fill="#ffffff" stroke="#222222" stroke-width="0.7"/>
<circle cx="407.4" cy="638.25" r="3.3" fill="#ffffff" stroke="#222222" stroke-width="0.7"/>
<circle cx="414.8" cy="651.15" r="3.3" fill="#ffffff" stroke="#222222" stroke-width="0.7"/>
<circle cx="410.9" cy="651.74" r="3.3" fill="#ffffff" stroke="#222222" stroke-width="0.7"/>
<circle cx="403.7" cy="656.55" r="3.3" fill="#ffffff" stroke="#222222" stroke-width="0.7"/>
<circle cx="407.4" cy="657.84" r="3.3" fill="#ffffff" stroke="#222222" stroke-width="0.7"/>
<circle cx="414.8" cy="659.36" r="3.3" fill="#ffffff" stroke="#222222" stroke-width="0.7"/>
<circle cx="403.7" cy="662.88" r="3.3" fill="#ffffff" stroke="#222222" stroke-width="0.7"/>
<circle cx="410.9" cy="662.88" r="3.3" fill="#ffffff" stroke="#222222" stroke-width="0.7"/>
<circle cx="434.8" cy="573.97" r="3.3" fill="#ffffff" stroke="#222222" stroke-width="0.7"/>
<circle cx="433.2" cy="619.48" r="3.3" fill="#ffffff" stroke="#222222" stroke-width="0.7"/>
<circle cx="437.1" cy="621.83" r="3.3" fill="#ffffff" stroke="#222222" stroke-width="0.7"/>
<circle cx="433.2" cy="628.28" r="3.3" fill="#ffffff" stroke="#222222" stroke-width="0.7"/>
<circle cx="436.5" cy="631.21" r="3.3" fill="#ffffff" stroke="#222222" stroke-width="0.7"/>
<circle cx="429.3" cy="640.59" r="3.3" fill="#ffffff" stroke="#222222" stroke-width="0.7"/>
<circle cx="436.5" cy="641.42" r="3.3" fill="#ffffff" stroke="#222222" stroke-width="0.7"/>
<circle cx="433.2" cy="642.94" r="3.3" fill="#ffffff" stroke="#222222" stroke-width="0.7"/>
<circle cx="440.4" cy="646.22" r="3.3" fill="#ffffff" stroke="#222222" stroke-width="0.7"/>
<circle cx="434.8" cy="659.36" r="3.3" fill="#ffffff" stroke="#222222" stroke-width="0.7"/>
<line x1="408.3" y1="564.5" x2="434.9" y2="564.5" stroke="#1a1a1a" stroke-width="1"/>
<text x="421.3" y="561.6" font-size="9.6" text-anchor="middle" fill="#1a1a1a">0.010</text>
<text x="349.2" y="607.75" font-size="9.6" text-anchor="middle" transform="rotate(-90 349.2 607.75)" fill="#1a1a1a">CD8<tspan dy="-3.9" font-size="6.72">+</tspan><tspan dy="3.9">&#8203;</tspan>CD44<tspan dy="-3.9" font-size="6.72">high</tspan><tspan dy="3.9">&#8203;</tspan> T cells</text>
<text x="360.8" y="607.75" font-size="9.6" text-anchor="middle" transform="rotate(-90 360.8 607.75)" fill="#1a1a1a">per g (&#215;10<tspan dy="-3.9" font-size="6.72">6</tspan><tspan dy="3.9">&#8203;</tspan>)</text>
<text x="412.45" y="677.6" font-size="9.6" text-anchor="end" transform="rotate(-45 412.45 677.6)" fill="#1a1a1a">Virgin</text>
<text x="438.45" y="677.6" font-size="9.6" text-anchor="end" transform="rotate(-45 438.45 677.6)" fill="#1a1a1a">d28-inv</text>
<line x1="507.5" y1="550.05" x2="507.5" y2="666.95" stroke="#7c7c7c" stroke-width="1"/>
<line x1="502.9" y1="666.5" x2="567.2" y2="666.5" stroke="#7c7c7c" stroke-width="1"/>
<text x="499.2" y="669.9" font-size="9.6" text-anchor="end" fill="#1a1a1a">0</text>
<line x1="502.9" y1="627.5" x2="507.5" y2="627.5" stroke="#7c7c7c" stroke-width="1"/>
<text x="499.2" y="631.13" font-size="9.6" text-anchor="end" fill="#1a1a1a">1</text>
<line x1="502.9" y1="589.5" x2="507.5" y2="589.5" stroke="#7c7c7c" stroke-width="1"/>
<text x="499.2" y="592.37" font-size="9.6" text-anchor="end" fill="#1a1a1a">2</text>
<line x1="502.9" y1="550.5" x2="507.5" y2="550.5" stroke="#7c7c7c" stroke-width="1"/>
<text x="499.2" y="553.6" font-size="9.6" text-anchor="end" fill="#1a1a1a">3</text>
<rect x="515.8" y="659" width="16.5" height="7.6" fill="#1f75b3" stroke="#2a2a2a" stroke-width="0.7"/>
<line x1="524.5" y1="666.5" x2="524.5" y2="671.5" stroke="#7c7c7c" stroke-width="1"/>
<rect x="542" y="639.08" width="15.9" height="27.52" fill="#f47d20" stroke="#2a2a2a" stroke-width="0.7"/>
<line x1="549.5" y1="666.5" x2="549.5" y2="671.5" stroke="#7c7c7c" stroke-width="1"/>
<line x1="524.5" y1="659" x2="524.5" y2="654.97" stroke="#6a6a6a" stroke-width="0.9"/>
<line x1="520.2" y1="654.97" x2="528.8" y2="654.97" stroke="#6a6a6a" stroke-width="0.9"/>
<line x1="524.5" y1="662.72" x2="524.5" y2="659" stroke="#1e1e1e" stroke-width="0.8"/>
<line x1="520.2" y1="662.72" x2="528.8" y2="662.72" stroke="#1e1e1e" stroke-width="0.8"/>
<line x1="549.5" y1="639.08" x2="549.5" y2="631.32" stroke="#6a6a6a" stroke-width="0.9"/>
<line x1="545.2" y1="631.32" x2="553.8" y2="631.32" stroke="#6a6a6a" stroke-width="0.9"/>
<line x1="549.5" y1="647.22" x2="549.5" y2="639.08" stroke="#1e1e1e" stroke-width="0.8"/>
<line x1="545.2" y1="647.22" x2="553.8" y2="647.22" stroke="#1e1e1e" stroke-width="0.8"/>
<circle cx="524.3" cy="639.46" r="3.3" fill="#ffffff" stroke="#222222" stroke-width="0.7"/>
<circle cx="521" cy="653.03" r="3.3" fill="#ffffff" stroke="#222222" stroke-width="0.7"/>
<circle cx="525.3" cy="652.64" r="3.3" fill="#ffffff" stroke="#222222" stroke-width="0.7"/>
<circle cx="529.8" cy="657.1" r="3.3" fill="#ffffff" stroke="#222222" stroke-width="0.7"/>
<circle cx="518.7" cy="662.72" r="3.3" fill="#ffffff" stroke="#222222" stroke-width="0.7"/>
<circle cx="524.3" cy="662.72" r="3.3" fill="#ffffff" stroke="#222222" stroke-width="0.7"/>
<circle cx="529.8" cy="662.72" r="3.3" fill="#ffffff" stroke="#222222" stroke-width="0.7"/>
<circle cx="549.8" cy="577.05" r="3.3" fill="#ffffff" stroke="#222222" stroke-width="0.7"/>
<circle cx="547.2" cy="626.28" r="3.3" fill="#ffffff" stroke="#222222" stroke-width="0.7"/>
<circle cx="552.7" cy="625.51" r="3.3" fill="#ffffff" stroke="#222222" stroke-width="0.7"/>
<circle cx="544.7" cy="645.28" r="3.3" fill="#ffffff" stroke="#222222" stroke-width="0.7"/>
<circle cx="549.8" cy="644.89" r="3.3" fill="#ffffff" stroke="#222222" stroke-width="0.7"/>
<circle cx="555.4" cy="645.67" r="3.3" fill="#ffffff" stroke="#222222" stroke-width="0.7"/>
<circle cx="544.7" cy="652.26" r="3.3" fill="#ffffff" stroke="#222222" stroke-width="0.7"/>
<circle cx="549.8" cy="655.36" r="3.3" fill="#ffffff" stroke="#222222" stroke-width="0.7"/>
<circle cx="555.4" cy="657.1" r="3.3" fill="#ffffff" stroke="#222222" stroke-width="0.7"/>
<circle cx="544.7" cy="659" r="3.3" fill="#ffffff" stroke="#222222" stroke-width="0.7"/>
<line x1="526.8" y1="567.5" x2="552.8" y2="567.5" stroke="#5a5a5a" stroke-width="1"/>
<text x="540.7" y="563.6" font-size="9.6" text-anchor="middle" fill="#1a1a1a">0.010</text>
<text x="473.2" y="608.45" font-size="9.6" text-anchor="middle" transform="rotate(-90 473.2 608.45)" fill="#1a1a1a">CD69<tspan dy="-3.9" font-size="6.72">+</tspan><tspan dy="3.9">&#8203;</tspan>CD103<tspan dy="-3.9" font-size="6.72">+</tspan><tspan dy="3.9">&#8203;</tspan>CD8<tspan dy="-3.9" font-size="6.72">+</tspan><tspan dy="3.9">&#8203;</tspan></text>
<text x="484.4" y="608.45" font-size="9.6" text-anchor="middle" transform="rotate(-90 484.4 608.45)" fill="#1a1a1a">T cells per g (&#215;10<tspan dy="-3.9" font-size="6.72">5</tspan><tspan dy="3.9">&#8203;</tspan>)</text>
<text x="527.45" y="677.8" font-size="9.6" text-anchor="end" transform="rotate(-45 527.45 677.8)" fill="#1a1a1a">Virgin</text>
<text x="553.35" y="677.8" font-size="9.6" text-anchor="end" transform="rotate(-45 553.35 677.8)" fill="#1a1a1a">d28-inv</text>
<line x1="624.5" y1="551.05" x2="624.5" y2="667.95" stroke="#7c7c7c" stroke-width="1"/>
<line x1="619.9" y1="667.5" x2="684.6" y2="667.5" stroke="#7c7c7c" stroke-width="1"/>
<text x="616.4" y="670.7" font-size="9.6" text-anchor="end" fill="#1a1a1a">0</text>
<line x1="619.9" y1="609.5" x2="624.5" y2="609.5" stroke="#7c7c7c" stroke-width="1"/>
<text x="616.4" y="612.55" font-size="9.6" text-anchor="end" fill="#1a1a1a">1</text>
<line x1="619.9" y1="551.5" x2="624.5" y2="551.5" stroke="#7c7c7c" stroke-width="1"/>
<text x="616.4" y="554.4" font-size="9.6" text-anchor="end" fill="#1a1a1a">2</text>
<rect x="633.9" y="657.11" width="16.1" height="10.29" fill="#1f75b3" stroke="#2a2a2a" stroke-width="0.7"/>
<line x1="641.5" y1="667.5" x2="641.5" y2="672.5" stroke="#7c7c7c" stroke-width="1"/>
<rect x="659.6" y="635.13" width="16.1" height="32.27" fill="#f47d20" stroke="#2a2a2a" stroke-width="0.7"/>
<line x1="667.5" y1="667.5" x2="667.5" y2="672.5" stroke="#7c7c7c" stroke-width="1"/>
<line x1="641.5" y1="657.11" x2="641.5" y2="654.03" stroke="#6a6a6a" stroke-width="0.9"/>
<line x1="637.2" y1="654.03" x2="645.8" y2="654.03" stroke="#6a6a6a" stroke-width="0.9"/>
<line x1="641.5" y1="660.42" x2="641.5" y2="657.11" stroke="#1e1e1e" stroke-width="0.8"/>
<line x1="637.2" y1="660.42" x2="645.8" y2="660.42" stroke="#1e1e1e" stroke-width="0.8"/>
<line x1="667.5" y1="635.13" x2="667.5" y2="628.44" stroke="#6a6a6a" stroke-width="0.9"/>
<line x1="663.2" y1="628.44" x2="671.8" y2="628.44" stroke="#6a6a6a" stroke-width="0.9"/>
<line x1="667.5" y1="641.81" x2="667.5" y2="635.13" stroke="#1e1e1e" stroke-width="0.8"/>
<line x1="663.2" y1="641.81" x2="671.8" y2="641.81" stroke="#1e1e1e" stroke-width="0.8"/>
<circle cx="641.3" cy="648.21" r="3.3" fill="#ffffff" stroke="#222222" stroke-width="0.7"/>
<circle cx="638.8" cy="652.57" r="3.3" fill="#ffffff" stroke="#222222" stroke-width="0.7"/>
<circle cx="641.3" cy="656.35" r="3.3" fill="#ffffff" stroke="#222222" stroke-width="0.7"/>
<circle cx="636.8" cy="660.77" r="3.3" fill="#ffffff" stroke="#222222" stroke-width="0.7"/>
<circle cx="641.3" cy="661.59" r="3.3" fill="#ffffff" stroke="#222222" stroke-width="0.7"/>
<circle cx="647" cy="661.7" r="3.3" fill="#ffffff" stroke="#222222" stroke-width="0.7"/>
<circle cx="667.3" cy="585.41" r="3.3" fill="#ffffff" stroke="#222222" stroke-width="0.7"/>
<circle cx="665.6" cy="619.72" r="3.3" fill="#ffffff" stroke="#222222" stroke-width="0.7"/>
<circle cx="669.9" cy="622.62" r="3.3" fill="#ffffff" stroke="#222222" stroke-width="0.7"/>
<circle cx="665.6" cy="627.28" r="3.3" fill="#ffffff" stroke="#222222" stroke-width="0.7"/>
<circle cx="669.9" cy="647.63" r="3.3" fill="#ffffff" stroke="#222222" stroke-width="0.7"/>
<circle cx="662.5" cy="650.54" r="3.3" fill="#ffffff" stroke="#222222" stroke-width="0.7"/>
<circle cx="672.8" cy="648.21" r="3.3" fill="#ffffff" stroke="#222222" stroke-width="0.7"/>
<circle cx="669.3" cy="653.44" r="3.3" fill="#ffffff" stroke="#222222" stroke-width="0.7"/>
<circle cx="665.6" cy="658.68" r="3.3" fill="#ffffff" stroke="#222222" stroke-width="0.7"/>
<line x1="643" y1="565.5" x2="669.3" y2="565.5" stroke="#1a1a1a" stroke-width="1"/>
<text x="656.5" y="563.6" font-size="9.6" text-anchor="middle" fill="#1a1a1a">0.008</text>
<text x="588.5" y="609.25" font-size="9.6" text-anchor="middle" transform="rotate(-90 588.5 609.25)" fill="#1a1a1a">H-2K<tspan dy="-3.9" font-size="6.72">b</tspan><tspan dy="3.9">&#8203;</tspan> OVA-tetramer<tspan dy="-3.9" font-size="6.72">+</tspan><tspan dy="3.9">&#8203;</tspan></text>
<text x="599.3" y="609.25" font-size="9.6" text-anchor="middle" transform="rotate(-90 599.3 609.25)" fill="#1a1a1a">CD8<tspan dy="-3.9" font-size="6.72">+</tspan><tspan dy="3.9">&#8203;</tspan> T cells per g (&#215;10<tspan dy="-3.9" font-size="6.72">5</tspan><tspan dy="3.9">&#8203;</tspan>)</text>
<text x="645.35" y="678.6" font-size="9.6" text-anchor="end" transform="rotate(-45 645.35 678.6)" fill="#1a1a1a">Virgin</text>
<text x="671.05" y="678.6" font-size="9.6" text-anchor="end" transform="rotate(-45 671.05 678.6)" fill="#1a1a1a">d28-inv</text>
<line x1="57.5" y1="724.05" x2="57.5" y2="840.95" stroke="#7c7c7c" stroke-width="1"/>
<line x1="52.9" y1="840.5" x2="117.7" y2="840.5" stroke="#7c7c7c" stroke-width="1"/>
<text x="49" y="843.5" font-size="9.6" text-anchor="end" fill="#1a1a1a">0</text>
<line x1="52.9" y1="801.5" x2="57.5" y2="801.5" stroke="#7c7c7c" stroke-width="1"/>
<text x="49" y="804.93" font-size="9.6" text-anchor="end" fill="#1a1a1a">0.5</text>
<line x1="52.9" y1="763.5" x2="57.5" y2="763.5" stroke="#7c7c7c" stroke-width="1"/>
<text x="49" y="766.37" font-size="9.6" text-anchor="end" fill="#1a1a1a">1.0</text>
<line x1="52.9" y1="724.5" x2="57.5" y2="724.5" stroke="#7c7c7c" stroke-width="1"/>
<text x="49" y="727.8" font-size="9.6" text-anchor="end" fill="#1a1a1a">1.5</text>
<rect x="66.3" y="828.32" width="16.6" height="11.88" fill="#1f75b3" stroke="#2a2a2a" stroke-width="0.7"/>
<line x1="74.5" y1="840.5" x2="74.5" y2="845.5" stroke="#7c7c7c" stroke-width="1"/>
<rect x="92.3" y="808.42" width="16.4" height="31.78" fill="#f47d20" stroke="#2a2a2a" stroke-width="0.7"/>
<line x1="100.5" y1="840.5" x2="100.5" y2="845.5" stroke="#7c7c7c" stroke-width="1"/>
<line x1="74.5" y1="828.32" x2="74.5" y2="824.77" stroke="#6a6a6a" stroke-width="0.9"/>
<line x1="70.2" y1="824.77" x2="78.8" y2="824.77" stroke="#6a6a6a" stroke-width="0.9"/>
<line x1="74.5" y1="831.72" x2="74.5" y2="828.32" stroke="#1e1e1e" stroke-width="0.8"/>
<line x1="70.2" y1="831.72" x2="78.8" y2="831.72" stroke="#1e1e1e" stroke-width="0.8"/>
<line x1="100.5" y1="808.42" x2="100.5" y2="799.32" stroke="#6a6a6a" stroke-width="0.9"/>
<line x1="96.2" y1="799.32" x2="104.8" y2="799.32" stroke="#6a6a6a" stroke-width="0.9"/>
<line x1="100.5" y1="816.6" x2="100.5" y2="808.42" stroke="#1e1e1e" stroke-width="0.8"/>
<line x1="96.2" y1="816.6" x2="104.8" y2="816.6" stroke="#1e1e1e" stroke-width="0.8"/>
<circle cx="72.6" cy="817.83" r="3.3" fill="#ffffff" stroke="#222222" stroke-width="0.7"/>
<circle cx="76.5" cy="820.15" r="3.3" fill="#ffffff" stroke="#222222" stroke-width="0.7"/>
<circle cx="69.3" cy="828.86" r="3.3" fill="#ffffff" stroke="#222222" stroke-width="0.7"/>
<circle cx="74.5" cy="827.86" r="3.3" fill="#ffffff" stroke="#222222" stroke-width="0.7"/>
<circle cx="69.3" cy="833.41" r="3.3" fill="#ffffff" stroke="#222222" stroke-width="0.7"/>
<circle cx="74.5" cy="832.8" r="3.3" fill="#ffffff" stroke="#222222" stroke-width="0.7"/>
<circle cx="80" cy="833.26" r="3.3" fill="#ffffff" stroke="#222222" stroke-width="0.7"/>
<circle cx="77.5" cy="834.8" r="3.3" fill="#ffffff" stroke="#222222" stroke-width="0.7"/>
<circle cx="100.5" cy="753.81" r="3.3" fill="#ffffff" stroke="#222222" stroke-width="0.7"/>
<circle cx="97.6" cy="790.45" r="3.3" fill="#ffffff" stroke="#222222" stroke-width="0.7"/>
<circle cx="103" cy="786.98" r="3.3" fill="#ffffff" stroke="#222222" stroke-width="0.7"/>
<circle cx="95.2" cy="818.22" r="3.3" fill="#ffffff" stroke="#222222" stroke-width="0.7"/>
<circle cx="105.8" cy="813.97" r="3.3" fill="#ffffff" stroke="#222222" stroke-width="0.7"/>
<circle cx="105.8" cy="820.53" r="3.3" fill="#ffffff" stroke="#222222" stroke-width="0.7"/>
<circle cx="100.5" cy="826.01" r="3.3" fill="#ffffff" stroke="#222222" stroke-width="0.7"/>
<circle cx="95.2" cy="832.49" r="3.3" fill="#ffffff" stroke="#222222" stroke-width="0.7"/>
<circle cx="105.8" cy="831.72" r="3.3" fill="#ffffff" stroke="#222222" stroke-width="0.7"/>
<line x1="76" y1="732.5" x2="101.7" y2="732.5" stroke="#aaaaaa" stroke-width="1.3"/>
<text x="88.5" y="728.3" font-size="9.6" text-anchor="middle" fill="#1a1a1a">0.028</text>
<text x="18.2" y="782.35" font-size="9.6" text-anchor="middle" transform="rotate(-90 18.2 782.35)" fill="#1a1a1a">H-2K<tspan dy="-3.9" font-size="6.72">b</tspan><tspan dy="3.9">&#8203;</tspan> OVA-tetramer<tspan dy="-3.9" font-size="6.72">+</tspan><tspan dy="3.9">&#8203;</tspan> CD69<tspan dy="-3.9" font-size="6.72">+</tspan><tspan dy="3.9">&#8203;</tspan></text>
<text x="29.4" y="782.35" font-size="9.6" text-anchor="middle" transform="rotate(-90 29.4 782.35)" fill="#1a1a1a">CD103<tspan dy="-3.9" font-size="6.72">&#8211;</tspan><tspan dy="3.9">&#8203;</tspan> cells per g (&#215;10<tspan dy="-3.9" font-size="6.72">5</tspan><tspan dy="3.9">&#8203;</tspan>)</text>
<text x="78" y="851.4" font-size="9.6" text-anchor="end" transform="rotate(-45 78 851.4)" fill="#1a1a1a">Virgin</text>
<text x="103.9" y="851.4" font-size="9.6" text-anchor="end" transform="rotate(-45 103.9 851.4)" fill="#1a1a1a">d28-inv</text>
<line x1="179.5" y1="725.05" x2="179.5" y2="842.95" stroke="#7c7c7c" stroke-width="1"/>
<line x1="174.9" y1="842.5" x2="239.5" y2="842.5" stroke="#7c7c7c" stroke-width="1"/>
<text x="170.8" y="845.5" font-size="9.6" text-anchor="end" fill="#1a1a1a">0</text>
<line x1="174.9" y1="812.5" x2="179.5" y2="812.5" stroke="#7c7c7c" stroke-width="1"/>
<text x="170.8" y="816.23" font-size="9.6" text-anchor="end" fill="#1a1a1a">1</text>
<line x1="174.9" y1="783.5" x2="179.5" y2="783.5" stroke="#7c7c7c" stroke-width="1"/>
<text x="170.8" y="786.95" font-size="9.6" text-anchor="end" fill="#1a1a1a">2</text>
<line x1="174.9" y1="754.5" x2="179.5" y2="754.5" stroke="#7c7c7c" stroke-width="1"/>
<text x="170.8" y="757.67" font-size="9.6" text-anchor="end" fill="#1a1a1a">3</text>
<line x1="174.9" y1="725.5" x2="179.5" y2="725.5" stroke="#7c7c7c" stroke-width="1"/>
<text x="170.8" y="728.4" font-size="9.6" text-anchor="end" fill="#1a1a1a">4</text>
<rect x="188.2" y="839.57" width="16.2" height="2.63" fill="#1f75b3" stroke="#2a2a2a" stroke-width="0.7"/>
<line x1="196.5" y1="842.5" x2="196.5" y2="847.5" stroke="#7c7c7c" stroke-width="1"/>
<rect x="214.1" y="807.95" width="16" height="34.25" fill="#f47d20" stroke="#2a2a2a" stroke-width="0.7"/>
<line x1="222.5" y1="842.5" x2="222.5" y2="847.5" stroke="#7c7c7c" stroke-width="1"/>
<line x1="196.5" y1="839.57" x2="196.5" y2="838.69" stroke="#6a6a6a" stroke-width="0.9"/>
<line x1="192.2" y1="838.69" x2="200.8" y2="838.69" stroke="#6a6a6a" stroke-width="0.9"/>
<line x1="196.5" y1="840.74" x2="196.5" y2="839.57" stroke="#1e1e1e" stroke-width="0.8"/>
<line x1="192.2" y1="840.74" x2="200.8" y2="840.74" stroke="#1e1e1e" stroke-width="0.8"/>
<line x1="222.5" y1="807.95" x2="222.5" y2="797.41" stroke="#6a6a6a" stroke-width="0.9"/>
<line x1="218.2" y1="797.41" x2="226.8" y2="797.41" stroke="#6a6a6a" stroke-width="0.9"/>
<line x1="222.5" y1="818.19" x2="222.5" y2="807.95" stroke="#1e1e1e" stroke-width="0.8"/>
<line x1="218.2" y1="818.19" x2="226.8" y2="818.19" stroke="#1e1e1e" stroke-width="0.8"/>
<circle cx="198.8" cy="828.15" r="3.3" fill="#ffffff" stroke="#222222" stroke-width="0.7"/>
<circle cx="193.1" cy="830.78" r="3.3" fill="#ffffff" stroke="#222222" stroke-width="0.7"/>
<circle cx="190.9" cy="831.66" r="3.3" fill="#ffffff" stroke="#222222" stroke-width="0.7"/>
<circle cx="194" cy="834.59" r="3.3" fill="#ffffff" stroke="#222222" stroke-width="0.7"/>
<circle cx="190.1" cy="838.1" r="3.3" fill="#ffffff" stroke="#222222" stroke-width="0.7"/>
<circle cx="197.1" cy="837.52" r="3.3" fill="#ffffff" stroke="#222222" stroke-width="0.7"/>
<circle cx="202.3" cy="838.69" r="3.3" fill="#ffffff" stroke="#222222" stroke-width="0.7"/>
<circle cx="195.5" cy="838.98" r="3.3" fill="#ffffff" stroke="#222222" stroke-width="0.7"/>
<circle cx="200.5" cy="836.35" r="3.3" fill="#ffffff" stroke="#222222" stroke-width="0.7"/>
<circle cx="221.9" cy="751.15" r="3.3" fill="#ffffff" stroke="#222222" stroke-width="0.7"/>
<circle cx="221.9" cy="759.94" r="3.3" fill="#ffffff" stroke="#222222" stroke-width="0.7"/>
<circle cx="224.3" cy="806.19" r="3.3" fill="#ffffff" stroke="#222222" stroke-width="0.7"/>
<circle cx="220" cy="809.12" r="3.3" fill="#ffffff" stroke="#222222" stroke-width="0.7"/>
<circle cx="216.5" cy="822.59" r="3.3" fill="#ffffff" stroke="#222222" stroke-width="0.7"/>
<circle cx="227.8" cy="829.03" r="3.3" fill="#ffffff" stroke="#222222" stroke-width="0.7"/>
<circle cx="223.3" cy="830.78" r="3.3" fill="#ffffff" stroke="#222222" stroke-width="0.7"/>
<circle cx="216.5" cy="831.95" r="3.3" fill="#ffffff" stroke="#222222" stroke-width="0.7"/>
<line x1="197.3" y1="729.5" x2="223.9" y2="729.5" stroke="#1a1a1a" stroke-width="1"/>
<text x="209.7" y="726.7" font-size="9.6" text-anchor="middle" fill="#1a1a1a">&lt;0.0001</text>
<text x="142.2" y="783.65" font-size="9.6" text-anchor="middle" transform="rotate(-90 142.2 783.65)" fill="#1a1a1a">H-2K<tspan dy="-3.9" font-size="6.72">b</tspan><tspan dy="3.9">&#8203;</tspan> OVA-tetramer<tspan dy="-3.9" font-size="6.72">+</tspan><tspan dy="3.9">&#8203;</tspan> CD69<tspan dy="-3.9" font-size="6.72">+</tspan><tspan dy="3.9">&#8203;</tspan></text>
<text x="153.2" y="783.65" font-size="9.6" text-anchor="middle" transform="rotate(-90 153.2 783.65)" fill="#1a1a1a">CD103<tspan dy="-3.9" font-size="6.72">+</tspan><tspan dy="3.9">&#8203;</tspan> cells per g (&#215;10<tspan dy="-3.9" font-size="6.72">4</tspan><tspan dy="3.9">&#8203;</tspan>)</text>
<text x="199.7" y="853.4" font-size="9.6" text-anchor="end" transform="rotate(-45 199.7 853.4)" fill="#1a1a1a">Virgin</text>
<text x="225.5" y="853.4" font-size="9.6" text-anchor="end" transform="rotate(-45 225.5 853.4)" fill="#1a1a1a">d28-inv</text>
<line x1="287.5" y1="725.05" x2="287.5" y2="841.95" stroke="#7c7c7c" stroke-width="1"/>
<line x1="282.9" y1="841.5" x2="347.8" y2="841.5" stroke="#7c7c7c" stroke-width="1"/>
<text x="279.2" y="844.5" font-size="9.6" text-anchor="end" fill="#1a1a1a">0</text>
<line x1="282.9" y1="817.5" x2="287.5" y2="817.5" stroke="#7c7c7c" stroke-width="1"/>
<text x="279.2" y="821.28" font-size="9.6" text-anchor="end" fill="#1a1a1a">0.2</text>
<line x1="282.9" y1="794.5" x2="287.5" y2="794.5" stroke="#7c7c7c" stroke-width="1"/>
<text x="279.2" y="798.06" font-size="9.6" text-anchor="end" fill="#1a1a1a">0.4</text>
<line x1="282.9" y1="771.5" x2="287.5" y2="771.5" stroke="#7c7c7c" stroke-width="1"/>
<text x="279.2" y="774.84" font-size="9.6" text-anchor="end" fill="#1a1a1a">0.6</text>
<line x1="282.9" y1="748.5" x2="287.5" y2="748.5" stroke="#7c7c7c" stroke-width="1"/>
<text x="279.2" y="751.62" font-size="9.6" text-anchor="end" fill="#1a1a1a">0.8</text>
<line x1="282.9" y1="725.5" x2="287.5" y2="725.5" stroke="#7c7c7c" stroke-width="1"/>
<text x="279.2" y="728.4" font-size="9.6" text-anchor="end" fill="#1a1a1a">1.0</text>
<rect x="296.2" y="822.04" width="16.6" height="19.16" fill="#1f75b3" stroke="#2a2a2a" stroke-width="0.7"/>
<line x1="304.5" y1="841.5" x2="304.5" y2="846.5" stroke="#7c7c7c" stroke-width="1"/>
<rect x="322.2" y="797.31" width="16.4" height="43.89" fill="#f47d20" stroke="#2a2a2a" stroke-width="0.7"/>
<line x1="330.5" y1="841.5" x2="330.5" y2="846.5" stroke="#7c7c7c" stroke-width="1"/>
<line x1="304.5" y1="822.04" x2="304.5" y2="815.77" stroke="#6a6a6a" stroke-width="0.9"/>
<line x1="300.2" y1="815.77" x2="308.8" y2="815.77" stroke="#6a6a6a" stroke-width="0.9"/>
<line x1="304.5" y1="828.43" x2="304.5" y2="822.04" stroke="#1e1e1e" stroke-width="0.8"/>
<line x1="300.2" y1="828.43" x2="308.8" y2="828.43" stroke="#1e1e1e" stroke-width="0.8"/>
<line x1="330.5" y1="797.31" x2="330.5" y2="788.26" stroke="#6a6a6a" stroke-width="0.9"/>
<line x1="326.2" y1="788.26" x2="334.8" y2="788.26" stroke="#6a6a6a" stroke-width="0.9"/>
<line x1="330.5" y1="806.37" x2="330.5" y2="797.31" stroke="#1e1e1e" stroke-width="0.8"/>
<line x1="326.2" y1="806.37" x2="334.8" y2="806.37" stroke="#1e1e1e" stroke-width="0.8"/>
<circle cx="304" cy="784.31" r="3.3" fill="#ffffff" stroke="#222222" stroke-width="0.7"/>
<circle cx="304" cy="801.03" r="3.3" fill="#ffffff" stroke="#222222" stroke-width="0.7"/>
<circle cx="302.7" cy="822.62" r="3.3" fill="#ffffff" stroke="#222222" stroke-width="0.7"/>
<circle cx="309.9" cy="822.97" r="3.3" fill="#ffffff" stroke="#222222" stroke-width="0.7"/>
<circle cx="299.1" cy="827.5" r="3.3" fill="#ffffff" stroke="#222222" stroke-width="0.7"/>
<circle cx="303" cy="831.45" r="3.3" fill="#ffffff" stroke="#222222" stroke-width="0.7"/>
<circle cx="307" cy="835.74" r="3.3" fill="#ffffff" stroke="#222222" stroke-width="0.7"/>
<circle cx="299.1" cy="837.14" r="3.3" fill="#ffffff" stroke="#222222" stroke-width="0.7"/>
<circle cx="310.9" cy="836.09" r="3.3" fill="#ffffff" stroke="#222222" stroke-width="0.7"/>
<circle cx="330.4" cy="735.2" r="3.3" fill="#ffffff" stroke="#222222" stroke-width="0.7"/>
<circle cx="330.4" cy="772.35" r="3.3" fill="#ffffff" stroke="#222222" stroke-width="0.7"/>
<circle cx="330.4" cy="781.76" r="3.3" fill="#ffffff" stroke="#222222" stroke-width="0.7"/>
<circle cx="330.4" cy="795.11" r="3.3" fill="#ffffff" stroke="#222222" stroke-width="0.7"/>
<circle cx="324.9" cy="801.96" r="3.3" fill="#ffffff" stroke="#222222" stroke-width="0.7"/>
<circle cx="335.8" cy="801.15" r="3.3" fill="#ffffff" stroke="#222222" stroke-width="0.7"/>
<circle cx="330.4" cy="805.91" r="3.3" fill="#ffffff" stroke="#222222" stroke-width="0.7"/>
<circle cx="327.4" cy="822.51" r="3.3" fill="#ffffff" stroke="#222222" stroke-width="0.7"/>
<circle cx="332.9" cy="824.37" r="3.3" fill="#ffffff" stroke="#222222" stroke-width="0.7"/>
<circle cx="330.4" cy="831.45" r="3.3" fill="#ffffff" stroke="#222222" stroke-width="0.7"/>
<line x1="306.9" y1="729.5" x2="332.8" y2="729.5" stroke="#505050" stroke-width="1"/>
<text x="318.8" y="726" font-size="9.6" text-anchor="middle" fill="#1a1a1a">0.028</text>
<text x="258.1" y="783.15" font-size="9.6" text-anchor="middle" transform="rotate(-90 258.1 783.15)" fill="#1a1a1a">Monocytes per g (&#215;10<tspan dy="-3.9" font-size="6.72">5</tspan><tspan dy="3.9">&#8203;</tspan>)</text>
<text x="307.9" y="852.4" font-size="9.6" text-anchor="end" transform="rotate(-45 307.9 852.4)" fill="#1a1a1a">Virgin</text>
<text x="333.8" y="852.4" font-size="9.6" text-anchor="end" transform="rotate(-45 333.8 852.4)" fill="#1a1a1a">d28-inv</text>
<line x1="398.5" y1="723.05" x2="398.5" y2="839.95" stroke="#7c7c7c" stroke-width="1"/>
<line x1="393.9" y1="839.5" x2="458.6" y2="839.5" stroke="#7c7c7c" stroke-width="1"/>
<text x="390.3" y="842.5" font-size="9.6" text-anchor="end" fill="#1a1a1a">0</text>
<line x1="393.9" y1="800.5" x2="398.5" y2="800.5" stroke="#7c7c7c" stroke-width="1"/>
<text x="390.3" y="803.93" font-size="9.6" text-anchor="end" fill="#1a1a1a">0.5</text>
<line x1="393.9" y1="762.5" x2="398.5" y2="762.5" stroke="#7c7c7c" stroke-width="1"/>
<text x="390.3" y="765.37" font-size="9.6" text-anchor="end" fill="#1a1a1a">1.0</text>
<line x1="393.9" y1="723.5" x2="398.5" y2="723.5" stroke="#7c7c7c" stroke-width="1"/>
<text x="390.3" y="726.8" font-size="9.6" text-anchor="end" fill="#1a1a1a">1.5</text>
<rect x="407.5" y="823" width="16.4" height="16.2" fill="#1f75b3" stroke="#2a2a2a" stroke-width="0.7"/>
<line x1="415.5" y1="839.5" x2="415.5" y2="844.5" stroke="#7c7c7c" stroke-width="1"/>
<rect x="433.3" y="807.04" width="16.4" height="32.16" fill="#f47d20" stroke="#2a2a2a" stroke-width="0.7"/>
<line x1="441.5" y1="839.5" x2="441.5" y2="844.5" stroke="#7c7c7c" stroke-width="1"/>
<line x1="415.5" y1="823" x2="415.5" y2="819.92" stroke="#6a6a6a" stroke-width="0.9"/>
<line x1="411.2" y1="819.92" x2="419.8" y2="819.92" stroke="#6a6a6a" stroke-width="0.9"/>
<line x1="415.5" y1="826.09" x2="415.5" y2="823" stroke="#1e1e1e" stroke-width="0.8"/>
<line x1="411.2" y1="826.09" x2="419.8" y2="826.09" stroke="#1e1e1e" stroke-width="0.8"/>
<line x1="441.5" y1="807.04" x2="441.5" y2="799.63" stroke="#6a6a6a" stroke-width="0.9"/>
<line x1="437.2" y1="799.63" x2="445.8" y2="799.63" stroke="#6a6a6a" stroke-width="0.9"/>
<line x1="441.5" y1="814.52" x2="441.5" y2="807.04" stroke="#1e1e1e" stroke-width="0.8"/>
<line x1="437.2" y1="814.52" x2="445.8" y2="814.52" stroke="#1e1e1e" stroke-width="0.8"/>
<circle cx="413.2" cy="810.43" r="3.3" fill="#ffffff" stroke="#222222" stroke-width="0.7"/>
<circle cx="413.2" cy="818.61" r="3.3" fill="#ffffff" stroke="#222222" stroke-width="0.7"/>
<circle cx="417.1" cy="816.83" r="3.3" fill="#ffffff" stroke="#222222" stroke-width="0.7"/>
<circle cx="421.6" cy="822.23" r="3.3" fill="#ffffff" stroke="#222222" stroke-width="0.7"/>
<circle cx="413.2" cy="826.01" r="3.3" fill="#ffffff" stroke="#222222" stroke-width="0.7"/>
<circle cx="418.6" cy="825.62" r="3.3" fill="#ffffff" stroke="#222222" stroke-width="0.7"/>
<circle cx="410.2" cy="828.94" r="3.3" fill="#ffffff" stroke="#222222" stroke-width="0.7"/>
<circle cx="421" cy="829.94" r="3.3" fill="#ffffff" stroke="#222222" stroke-width="0.7"/>
<circle cx="441.5" cy="741.7" r="3.3" fill="#ffffff" stroke="#222222" stroke-width="0.7"/>
<circle cx="441.5" cy="803.49" r="3.3" fill="#ffffff" stroke="#222222" stroke-width="0.7"/>
<circle cx="441.5" cy="806.5" r="3.3" fill="#ffffff" stroke="#222222" stroke-width="0.7"/>
<circle cx="438.5" cy="811.43" r="3.3" fill="#ffffff" stroke="#222222" stroke-width="0.7"/>
<circle cx="444.4" cy="812.2" r="3.3" fill="#ffffff" stroke="#222222" stroke-width="0.7"/>
<circle cx="436" cy="816.06" r="3.3" fill="#ffffff" stroke="#222222" stroke-width="0.7"/>
<circle cx="441.5" cy="813.28" r="3.3" fill="#ffffff" stroke="#222222" stroke-width="0.7"/>
<circle cx="446.9" cy="816.06" r="3.3" fill="#ffffff" stroke="#222222" stroke-width="0.7"/>
<circle cx="441.5" cy="818.37" r="3.3" fill="#ffffff" stroke="#222222" stroke-width="0.7"/>
<circle cx="441.5" cy="829.48" r="3.3" fill="#ffffff" stroke="#222222" stroke-width="0.7"/>
<line x1="416" y1="732.5" x2="442.1" y2="732.5" stroke="#1a1a1a" stroke-width="1"/>
<text x="428.4" y="730" font-size="9.6" text-anchor="middle" fill="#1a1a1a">0.013</text>
<text x="370.2" y="781.35" font-size="9.6" text-anchor="middle" transform="rotate(-90 370.2 781.35)" fill="#1a1a1a">DCs per g (&#215;10<tspan dy="-3.9" font-size="6.72">5</tspan><tspan dy="3.9">&#8203;</tspan>)</text>
<text x="419.1" y="850.4" font-size="9.6" text-anchor="end" transform="rotate(-45 419.1 850.4)" fill="#1a1a1a">Virgin</text>
<text x="444.9" y="850.4" font-size="9.6" text-anchor="end" transform="rotate(-45 444.9 850.4)" fill="#1a1a1a">d28-inv</text>
<line x1="508.5" y1="723.05" x2="508.5" y2="840.95" stroke="#7c7c7c" stroke-width="1"/>
<line x1="503.9" y1="840.5" x2="569.1" y2="840.5" stroke="#7c7c7c" stroke-width="1"/>
<text x="500.5" y="843.4" font-size="9.6" text-anchor="end" fill="#1a1a1a">0</text>
<line x1="503.9" y1="810.5" x2="508.5" y2="810.5" stroke="#7c7c7c" stroke-width="1"/>
<text x="500.5" y="814.25" font-size="9.6" text-anchor="end" fill="#1a1a1a">1</text>
<line x1="503.9" y1="781.5" x2="508.5" y2="781.5" stroke="#7c7c7c" stroke-width="1"/>
<text x="500.5" y="785.1" font-size="9.6" text-anchor="end" fill="#1a1a1a">2</text>
<line x1="503.9" y1="752.5" x2="508.5" y2="752.5" stroke="#7c7c7c" stroke-width="1"/>
<text x="500.5" y="755.95" font-size="9.6" text-anchor="end" fill="#1a1a1a">3</text>
<line x1="503.9" y1="723.5" x2="508.5" y2="723.5" stroke="#7c7c7c" stroke-width="1"/>
<text x="500.5" y="726.8" font-size="9.6" text-anchor="end" fill="#1a1a1a">4</text>
<rect x="517" y="837.19" width="16.5" height="2.92" fill="#1f75b3" stroke="#2a2a2a" stroke-width="0.7"/>
<line x1="525.5" y1="840.5" x2="525.5" y2="845.5" stroke="#7c7c7c" stroke-width="1"/>
<rect x="543.4" y="824.94" width="16.6" height="15.16" fill="#f47d20" stroke="#2a2a2a" stroke-width="0.7"/>
<line x1="551.5" y1="840.5" x2="551.5" y2="845.5" stroke="#7c7c7c" stroke-width="1"/>
<line x1="525.5" y1="837.19" x2="525.5" y2="836.6" stroke="#6a6a6a" stroke-width="0.9"/>
<line x1="521.2" y1="836.6" x2="529.8" y2="836.6" stroke="#6a6a6a" stroke-width="0.9"/>
<line x1="525.5" y1="837.77" x2="525.5" y2="837.19" stroke="#1e1e1e" stroke-width="0.8"/>
<line x1="521.2" y1="837.77" x2="529.8" y2="837.77" stroke="#1e1e1e" stroke-width="0.8"/>
<line x1="551.5" y1="824.94" x2="551.5" y2="815.61" stroke="#6a6a6a" stroke-width="0.9"/>
<line x1="547.2" y1="815.61" x2="555.8" y2="815.61" stroke="#6a6a6a" stroke-width="0.9"/>
<line x1="551.5" y1="834.27" x2="551.5" y2="824.94" stroke="#1e1e1e" stroke-width="0.8"/>
<line x1="547.2" y1="834.27" x2="555.8" y2="834.27" stroke="#1e1e1e" stroke-width="0.8"/>
<circle cx="521.4" cy="831.94" r="3.3" fill="#ffffff" stroke="#222222" stroke-width="0.7"/>
<circle cx="524.5" cy="832.81" r="3.3" fill="#ffffff" stroke="#222222" stroke-width="0.7"/>
<circle cx="527.5" cy="833.69" r="3.3" fill="#ffffff" stroke="#222222" stroke-width="0.7"/>
<circle cx="520.5" cy="836.31" r="3.3" fill="#ffffff" stroke="#222222" stroke-width="0.7"/>
<circle cx="526.2" cy="836.6" r="3.3" fill="#ffffff" stroke="#222222" stroke-width="0.7"/>
<circle cx="531.5" cy="836.31" r="3.3" fill="#ffffff" stroke="#222222" stroke-width="0.7"/>
<circle cx="552" cy="747.11" r="3.3" fill="#ffffff" stroke="#222222" stroke-width="0.7"/>
<circle cx="552" cy="803.37" r="3.3" fill="#ffffff" stroke="#222222" stroke-width="0.7"/>
<circle cx="551.9" cy="829.75" r="3.3" fill="#ffffff" stroke="#222222" stroke-width="0.7"/>
<circle cx="547.8" cy="834.56" r="3.3" fill="#ffffff" stroke="#222222" stroke-width="0.7"/>
<circle cx="555.5" cy="835.14" r="3.3" fill="#ffffff" stroke="#222222" stroke-width="0.7"/>
<circle cx="557.5" cy="834.27" r="3.3" fill="#ffffff" stroke="#222222" stroke-width="0.7"/>
<line x1="526" y1="732.5" x2="552" y2="732.5" stroke="#8a8a8a" stroke-width="1.1"/>
<text x="538.3" y="728.6" font-size="9.6" text-anchor="middle" fill="#1a1a1a">0.008</text>
<text x="486.1" y="781.8" font-size="9.6" text-anchor="middle" transform="rotate(-90 486.1 781.8)" fill="#1a1a1a">XCR1<tspan dy="-3.9" font-size="6.72">+</tspan><tspan dy="3.9">&#8203;</tspan> DC1 per g (&#215;10<tspan dy="-3.9" font-size="6.72">4</tspan><tspan dy="3.9">&#8203;</tspan>)</text>
<text x="528.65" y="851.3" font-size="9.6" text-anchor="end" transform="rotate(-45 528.65 851.3)" fill="#1a1a1a">Virgin</text>
<text x="555.1" y="851.3" font-size="9.6" text-anchor="end" transform="rotate(-45 555.1 851.3)" fill="#1a1a1a">d28-inv</text>
<line x1="624.5" y1="724.05" x2="624.5" y2="841.95" stroke="#7c7c7c" stroke-width="1"/>
<line x1="619.9" y1="841.5" x2="684.5" y2="841.5" stroke="#7c7c7c" stroke-width="1"/>
<text x="616.3" y="844.3" font-size="9.6" text-anchor="end" fill="#1a1a1a">0</text>
<line x1="619.9" y1="802.5" x2="624.5" y2="802.5" stroke="#7c7c7c" stroke-width="1"/>
<text x="616.3" y="805.47" font-size="9.6" text-anchor="end" fill="#1a1a1a">1</text>
<line x1="619.9" y1="763.5" x2="624.5" y2="763.5" stroke="#7c7c7c" stroke-width="1"/>
<text x="616.3" y="766.63" font-size="9.6" text-anchor="end" fill="#1a1a1a">2</text>
<line x1="619.9" y1="724.5" x2="624.5" y2="724.5" stroke="#7c7c7c" stroke-width="1"/>
<text x="616.3" y="727.8" font-size="9.6" text-anchor="end" fill="#1a1a1a">3</text>
<rect x="632.3" y="809.54" width="16.6" height="31.46" fill="#1f75b3" stroke="#2a2a2a" stroke-width="0.7"/>
<line x1="640.5" y1="841.5" x2="640.5" y2="846.5" stroke="#7c7c7c" stroke-width="1"/>
<rect x="658.3" y="780.03" width="16.4" height="60.97" fill="#f47d20" stroke="#2a2a2a" stroke-width="0.7"/>
<line x1="666.5" y1="841.5" x2="666.5" y2="846.5" stroke="#7c7c7c" stroke-width="1"/>
<line x1="640.5" y1="809.54" x2="640.5" y2="800.61" stroke="#6a6a6a" stroke-width="0.9"/>
<line x1="636.2" y1="800.61" x2="644.8" y2="800.61" stroke="#6a6a6a" stroke-width="0.9"/>
<line x1="640.5" y1="817.31" x2="640.5" y2="809.54" stroke="#1e1e1e" stroke-width="0.8"/>
<line x1="636.2" y1="817.31" x2="644.8" y2="817.31" stroke="#1e1e1e" stroke-width="0.8"/>
<line x1="666.5" y1="780.03" x2="666.5" y2="769.93" stroke="#6a6a6a" stroke-width="0.9"/>
<line x1="662.2" y1="769.93" x2="670.8" y2="769.93" stroke="#6a6a6a" stroke-width="0.9"/>
<line x1="666.5" y1="790.28" x2="666.5" y2="780.03" stroke="#1e1e1e" stroke-width="0.8"/>
<line x1="662.2" y1="790.28" x2="670.8" y2="790.28" stroke="#1e1e1e" stroke-width="0.8"/>
<circle cx="640.7" cy="766.98" r="3.3" fill="#ffffff" stroke="#222222" stroke-width="0.7"/>
<circle cx="640.7" cy="778.59" r="3.3" fill="#ffffff" stroke="#222222" stroke-width="0.7"/>
<circle cx="640.7" cy="798.28" r="3.3" fill="#ffffff" stroke="#222222" stroke-width="0.7"/>
<circle cx="634.9" cy="809" r="3.3" fill="#ffffff" stroke="#222222" stroke-width="0.7"/>
<circle cx="646.6" cy="806.05" r="3.3" fill="#ffffff" stroke="#222222" stroke-width="0.7"/>
<circle cx="646" cy="814.71" r="3.3" fill="#ffffff" stroke="#222222" stroke-width="0.7"/>
<circle cx="640.7" cy="829.93" r="3.3" fill="#ffffff" stroke="#222222" stroke-width="0.7"/>
<circle cx="634.9" cy="837.31" r="3.3" fill="#ffffff" stroke="#222222" stroke-width="0.7"/>
<circle cx="646" cy="837.31" r="3.3" fill="#ffffff" stroke="#222222" stroke-width="0.7"/>
<circle cx="664.5" cy="733.82" r="3.3" fill="#ffffff" stroke="#222222" stroke-width="0.7"/>
<circle cx="668" cy="736.54" r="3.3" fill="#ffffff" stroke="#222222" stroke-width="0.7"/>
<circle cx="661" cy="769.55" r="3.3" fill="#ffffff" stroke="#222222" stroke-width="0.7"/>
<circle cx="671.3" cy="769.55" r="3.3" fill="#ffffff" stroke="#222222" stroke-width="0.7"/>
<circle cx="664.5" cy="772.26" r="3.3" fill="#ffffff" stroke="#222222" stroke-width="0.7"/>
<circle cx="666.1" cy="780.03" r="3.3" fill="#ffffff" stroke="#222222" stroke-width="0.7"/>
<circle cx="666.1" cy="811.29" r="3.3" fill="#ffffff" stroke="#222222" stroke-width="0.7"/>
<circle cx="666.1" cy="818.87" r="3.3" fill="#ffffff" stroke="#222222" stroke-width="0.7"/>
<circle cx="666.1" cy="836.11" r="3.3" fill="#ffffff" stroke="#222222" stroke-width="0.7"/>
<line x1="642.7" y1="730.5" x2="664.9" y2="730.5" stroke="#606060" stroke-width="1.1"/>
<text x="654" y="727.8" font-size="9.6" text-anchor="middle" fill="#1a1a1a">0.11</text>
<text x="602" y="782.75" font-size="9.6" text-anchor="middle" transform="rotate(-90 602 782.75)" fill="#1a1a1a">DC2 cells per g (&#215;10<tspan dy="-3.9" font-size="6.72">6</tspan><tspan dy="3.9">&#8203;</tspan>)</text>
<text x="644" y="852.2" font-size="9.6" text-anchor="end" transform="rotate(-45 644 852.2)" fill="#1a1a1a">Virgin</text>
<text x="669.9" y="852.2" font-size="9.6" text-anchor="end" transform="rotate(-45 669.9 852.2)" fill="#1a1a1a">d28-inv</text>
<text x="-0.2" y="8.5" font-size="12.1" text-anchor="start" font-weight="bold" style="stroke:#000;stroke-width:0.6px" fill="#000">a</text>
<text x="344.4" y="9.2" font-size="12.1" text-anchor="start" font-weight="bold" style="stroke:#000;stroke-width:0.6px" fill="#000">b</text>
<text x="0.4" y="195.9" font-size="12.1" text-anchor="start" font-weight="bold" style="stroke:#000;stroke-width:0.6px" fill="#000">c</text>
<text x="344.6" y="195.9" font-size="12.1" text-anchor="start" font-weight="bold" style="stroke:#000;stroke-width:0.6px" fill="#000">d</text>
<text x="0.3" y="385.4" font-size="12.1" text-anchor="start" font-weight="bold" style="stroke:#000;stroke-width:0.6px" fill="#000">e</text>
<text x="438.7" y="385.1" font-size="12.1" text-anchor="start" font-weight="bold" style="stroke:#000;stroke-width:0.6px" fill="#000">f</text>
<text x="0" y="549.4" font-size="12.1" text-anchor="start" font-weight="bold" style="stroke:#000;stroke-width:0.6px" fill="#000">g</text>
</svg>
</body></html>
